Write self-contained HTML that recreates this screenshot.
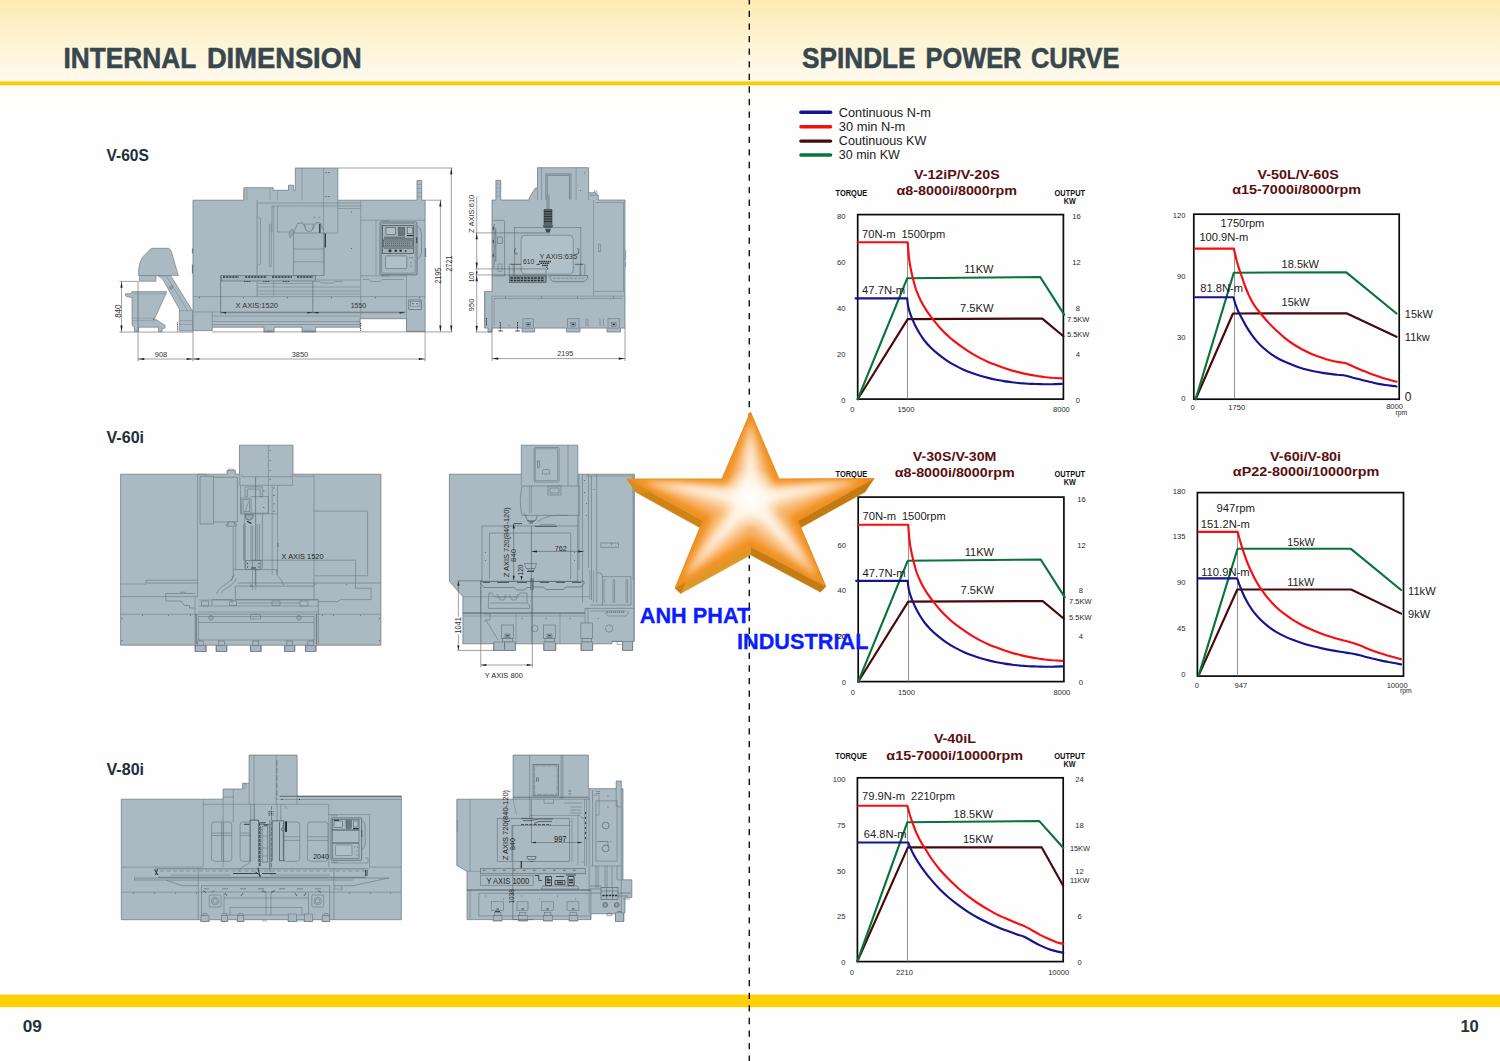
<!DOCTYPE html>
<html><head><meta charset="utf-8"><title>Internal Dimension / Spindle Power Curve</title>
<style>
html,body{margin:0;padding:0;background:#fff;}
body{width:1500px;height:1061px;overflow:hidden;font-family:"Liberation Sans",sans-serif;}
svg{display:block;position:absolute;left:0;top:0;}
svg text{font-family:"Liberation Sans",sans-serif;}
</style></head><body>
<svg width="1500" height="1061" viewBox="0 0 1500 1061">
<defs>
<linearGradient id="hdr" x1="0" y1="0" x2="0" y2="1">
<stop offset="0" stop-color="#fdebb2"/><stop offset="0.5" stop-color="#fef3d2"/><stop offset="1" stop-color="#fffaf0"/>
</linearGradient>
<linearGradient id="hdr2" x1="0" y1="0" x2="0" y2="1">
<stop offset="0" stop-color="#fffdf6"/><stop offset="1" stop-color="#fefefe"/>
</linearGradient>
<radialGradient id="starc">
<stop offset="0" stop-color="#ffffff" stop-opacity="1"/><stop offset="0.45" stop-color="#fffaf2" stop-opacity="0.85"/><stop offset="1" stop-color="#fff2e0" stop-opacity="0"/>
</radialGradient>
<filter id="blur3" x="-30%" y="-30%" width="160%" height="160%"><feGaussianBlur stdDeviation="3"/></filter>
<filter id="blur4" x="-30%" y="-30%" width="160%" height="160%"><feGaussianBlur stdDeviation="4.5"/></filter>

</defs>
<!-- page background -->
<rect x="0" y="0" width="1500" height="1061" fill="#fefefe"/>
<rect x="0" y="0" width="1500" height="81" fill="url(#hdr)"/>
<rect x="0" y="85" width="1500" height="24" fill="url(#hdr2)"/>
<rect x="0" y="81.4" width="1500" height="3.8" fill="#fdcb04"/>
<rect x="0" y="994.6" width="1500" height="12.6" fill="#fdd106"/>
<!-- centre fold -->
<line x1="749.3" y1="0" x2="749.3" y2="1061" stroke="#151515" stroke-width="1.45" stroke-dasharray="6.3 6.288" stroke-dashoffset="1.79"/>
<!-- headings -->
<g stroke="#37474f" stroke-width="0.55" fill="#37474f" font-weight="bold" font-size="28.8">
<text x="63.4" y="68" textLength="132.8" lengthAdjust="spacingAndGlyphs">INTERNAL</text>
<text x="206.9" y="68" textLength="154.8" lengthAdjust="spacingAndGlyphs">DIMENSION</text>
<text x="802" y="67.6" textLength="113.6" lengthAdjust="spacingAndGlyphs">SPINDLE</text>
<text x="925.5" y="67.6" textLength="95.9" lengthAdjust="spacingAndGlyphs">POWER</text>
<text x="1030.9" y="67.6" textLength="88.7" lengthAdjust="spacingAndGlyphs">CURVE</text>
</g>
<text x="22.7" y="1032" font-size="16.2" font-weight="bold" fill="#263238" textLength="19.2" lengthAdjust="spacingAndGlyphs">09</text>
<text x="1460.4" y="1032" font-size="16.2" font-weight="bold" fill="#263238" textLength="18.4" lengthAdjust="spacingAndGlyphs">10</text>
<g font-size="15.8" font-weight="bold" fill="#1f2e39">
<text x="106.5" y="161.3" textLength="42.4" lengthAdjust="spacingAndGlyphs">V-60S</text>
<text x="106.5" y="443.3" textLength="37.6" lengthAdjust="spacingAndGlyphs">V-60i</text>
<text x="106.5" y="775.3" textLength="37.6" lengthAdjust="spacingAndGlyphs">V-80i</text>
</g>

<!-- machines -->
<!-- ============ V-60S front view ============ -->
<g id="v60s-front" stroke-linejoin="miter" fill="none">
<!-- chip conveyor hood + ramp -->
<path d="M138.600,275.600 V270.200 Q139.300,262 142.300,257.400 L151.300,248.300 H168.700 Q170.800,249.300 171.600,252.300 L178.300,275.600 Z" fill="#aab9c2" stroke="#65727a" stroke-width="0.6"/>
<path d="M139.500,275.600 H156 V281.300 H139.500 Z" fill="#aab9c2" stroke="#65727a" stroke-width="0.55"/>
<path d="M157.400,275.600 Q162,277 164,281.500 L180,310.200 H179.400 V331 H192.800 V311.200 L170.600,275.600 Z" fill="#aab9c2" stroke="#65727a" stroke-width="0.6"/>
<path d="M166.400,276.300 L187.600,310.700" stroke="#717e86" stroke-width="0.5"/>
<circle cx="171.100" cy="287.600" r="1.700" fill="none" stroke="#5f6b72" stroke-width="0.5"/><circle cx="171.100" cy="287.600" r="0.800" fill="none" stroke="#5f6b72" stroke-width="0.4"/>
<path d="M179.400,310.700 H192.800 M179.400,320.600 H192.800 M179.400,324.400 H192.800" stroke="#717e86" stroke-width="0.45"/>
<!-- chip bucket -->
<path d="M125.400,293.700 H131 L132,291.600 H166.400 V292.800 L154.600,318.700 L165,325.300 V328.100 L162.100,328.600 V331.400 H158.500 V327.200 H138.600 V331.400 H134.300 V327.200 L132,325.300 V297.500 L126.300,296.600 L125.400,295.100 Z" fill="#aab9c2" stroke="#65727a" stroke-width="0.6"/>
<path d="M132,293.700 H165.800 M132,318.200 H154.600 M132,320.600 H157.500" stroke="#717e86" stroke-width="0.4"/>
<circle cx="153.600" cy="319.500" r="0.500" fill="#30383d"/>
<!-- main silhouette -->
<path d="M193,200.2 L243.9,200.2 L243.9,187.7 L273.2,187.7 L273.2,190.3 L288.5,190.3 L288.5,185.2 L293.6,185.2 L293.6,190.3 L295.3,190.3 L295.3,168 L337.8,168 L337.8,200.2 L417,200.2 L417,180.4 L421.7,180.4 L421.7,200.2 L425.1,200.2 L425.1,331.4 L406.5,331.4 L406.5,318.7 L360.1,318.7 L360.1,327.2 L315.7,327.2 L315.7,332 L302,332 L302,327.2 L274.1,327.2 L274.1,332 L263.9,332 L263.9,327.2 L212.2,327.2 L212.2,330.6 L193,330.6 Z" fill="#aab9c2" stroke="#65727a" stroke-width="0.7"/>
<path d="M417,184.500 h4.700 M417,188.500 h4.700 M417,192.500 h4.700 M417,196.500 h4.700" stroke="#717e86" stroke-width="0.4"/>
<!-- column head detail -->
<path d="M302,168 V200.2 M323.5,168 V232" stroke="#6b7880" stroke-width="0.5"/>
<path d="M325.5,172.5 h1.2 M328.2,172.5 h1.2 M325.5,196.5 h1.2 M328.2,196.5 h1.2" stroke="#4c565d" stroke-width="0.9"/>
<path d="M243.9,200.2 V190 M247,188 V200 M270,188 V200 M277.5,190.3 V200.2" stroke="#717e86" stroke-width="0.4"/>
<!-- door panel left and window -->
<path d="M257.1,200.2 V296.6" stroke="#65727a" stroke-width="0.6"/>
<path d="M257.1,203 H360.7 M272,206 H360.7 M272,206 V232" stroke="#65727a" stroke-width="0.5"/>
<path d="M258.5,217 q2,0 2,2 v44 q0,2 -2,2" fill="none" stroke="#65727a" stroke-width="0.5"/>
<rect x="269.3" y="224" width="2" height="43" rx="1" fill="none" stroke="#65727a" stroke-width="0.5"/>
<path d="M273.7,206 V296 M277.5,206 V232 H293.6" stroke="#6e7b83" stroke-width="0.5"/>
<!-- spindle nose -->
<path d="M293.6,232.8 L297.5,223.5 L302.5,222.8 L306,229.5 L312.5,229.5 L316,222.8 L320,222.8 L323.5,230" fill="none" stroke="#5d6970" stroke-width="0.6"/>
<path d="M304.5,224 h9 l-1.5,6.5 q-3,2.5 -6,0 z" fill="#a9b7bf" stroke="#5d6970" stroke-width="0.5"/>
<path d="M289,232 l3.5,-3 l1.5,4 l-4,5 z" fill="#98a6ae" stroke="#5d6970" stroke-width="0.4"/>
<path d="M319.8,224 V240 M325.3,233.5 V247.5" stroke="#30383d" stroke-width="1.4"/>
<path d="M313.5,216.5 l2,2 m0,-2 l-2,2 M318.5,216.5 l2,2 m0,-2 l-2,2" stroke="#5d6970" stroke-width="0.4"/>
<!-- spindle head box -->
<rect x="293.6" y="233" width="30.4" height="42.4" fill="#a8b7c0" stroke="#65727a" stroke-width="0.6"/>
<path d="M293.6,249 H324 M293.6,261.8 H324" stroke="#65727a" stroke-width="0.5"/>
<path d="M324,232 V275.4 M337.8,200.2 V233 H324 M337.8,208.5 H360.7" stroke="#6e7b83" stroke-width="0.5"/>
<path d="M351,212 h1 M351,248.5 h1" stroke="#4c565d" stroke-width="0.9"/>
<!-- table -->
<rect x="221.5" y="275.6" width="94.2" height="5.4" fill="#a3b0b8" stroke="#4e585f" stroke-width="0.5"/>
<path d="M223,277 h16 M245,277 h22 M272,277 h20 M297,277 h16" stroke="#2e363b" stroke-width="1.6" stroke-dasharray="2.2 0.9"/>
<path d="M244,281.5 h7 M263,281.5 h7 M283,281.5 h7" stroke="#2e363b" stroke-width="0.9" stroke-dasharray="1.5 0.8"/>
<!-- saddle -->
<path d="M257.5,283.5 H312 M257.5,287 H360 M257.5,291 H360 M257.5,294 H360" stroke="#6e7b83" stroke-width="0.5"/>
<path d="M315.7,280 H360.7 M315.7,281.5 l4,0 l1.5,1.5 h12 l1.5,-1.5 h8" fill="none" stroke="#65727a" stroke-width="0.5"/>
<!-- base ledge -->
<path d="M193,296.6 H425.1 M193,311.9 H406.5 M212.2,311.9 V327.2 M212.2,316 H360 M212.2,321.5 H360 M212.2,324.5 H360" stroke="#6b7880" stroke-width="0.5"/>
<path d="M199,297.7 h1 M243,297.7 h1 M287,297.7 h1 M331,297.7 h1 M375,297.7 h1 M419,297.7 h1" stroke="#4c565d" stroke-width="0.9"/>
<!-- right panel -->
<path d="M360.7,200.2 V318.7 M360.7,220.2 H425.1 M376,220.2 V275.5 M360.7,275.8 H406.5 M406.5,275.8 V331.4 M363,279.5 h6 l1.5,2 h10 l1.5,-2 h22" fill="none" stroke="#6b7880" stroke-width="0.5"/>
<!-- control panel -->
<rect x="380" y="222" width="37" height="52.800" rx="1.2" fill="#a8b7c0" stroke="#4e585f" stroke-width="0.7"/>
<rect x="381.600" y="223.600" width="33.600" height="49.600" rx="0.8" fill="none" stroke="#5f6b72" stroke-width="0.5"/>
<rect x="382.4" y="225.6" width="31" height="27.8" fill="#a4b2ba" stroke="#343c41" stroke-width="0.6"/>
<rect x="386" y="227.5" width="9.6" height="7.2" fill="#b1c0c8" stroke="#343c41" stroke-width="0.5"/>
<rect x="398.3" y="227.3" width="6.3" height="8.2" fill="#6c787f" stroke="#343c41" stroke-width="0.4"/>
<rect x="407.3" y="227.3" width="5" height="6.5" fill="#b1c0c8" stroke="#343c41" stroke-width="0.4"/>
<path d="M407,235.6 h6" stroke="#22292d" stroke-width="1.1"/>
<path d="M384,237.2 h21 M384,238.8 h29" stroke="#343c41" stroke-width="0.7"/>
<rect x="383.6" y="240" width="28.6" height="7" fill="#8f9ca4" stroke="#343c41" stroke-width="0.5"/>
<path d="M385,241.8 h26 M385,243.6 h26 M385,245.4 h26" stroke="#394247" stroke-width="0.7" stroke-dasharray="1.2 0.8"/>
<path d="M384,248.3 h29" stroke="#343c41" stroke-width="0.5"/>
<circle cx="390" cy="250.7" r="1.5" fill="#2c3338"/><circle cx="395.8" cy="250.7" r="1.3" fill="#2c3338"/><circle cx="400.6" cy="250.7" r="1.3" fill="#2c3338"/><circle cx="405.6" cy="250.9" r="0.9" fill="#2c3338"/>
<rect x="385.6" y="255.9" width="21.2" height="12.7" rx="0.8" fill="#b1c0c8" stroke="#4e585f" stroke-width="0.5"/>
<path d="M409.3,257.8 h1 M411.6,257.8 h1 M410.6,262.5 h0.8 M410.6,266 h0.8" stroke="#4c565d" stroke-width="0.9"/>
<path d="M417.5,226 q4,2 4,8 v18 q0,5 -4,7" fill="none" stroke="#5f6b72" stroke-width="0.6"/>
<path d="M416.8,237.5 v5.5" stroke="#2c3338" stroke-width="1"/>
<path d="M382,221 h7 M382,276 h7" stroke="#4c565d" stroke-width="0.6" stroke-dasharray="1 0.6"/>
<path d="M425.6,248 v9" stroke="#4c565d" stroke-width="0.8"/>
<!-- socket box -->
<rect x="408.9" y="300" width="12.3" height="9.3" fill="#b1c0c8" stroke="#4e585f" stroke-width="0.6"/>
<rect x="410.2" y="301.3" width="9.7" height="5.2" fill="none" stroke="#4e585f" stroke-width="0.4"/>
<path d="M412.3,303.8 h1.2 M416.4,303.8 h1.2" stroke="#2c3338" stroke-width="1.1"/>
<!-- left side marks -->
<path d="M192.4,248.5 v5 M192.4,264.5 v9" stroke="#4c565d" stroke-width="0.8"/>
<!-- levelling pads -->
<path d="M265.5,330.8 h7 M303.5,330.8 h11" stroke="#6a767d" stroke-width="0.6"/>
<path d="M360.6,323 v8 M177.600,322.500 v9" stroke="#30383d" stroke-width="1" stroke-dasharray="1 0.7"/>
<!-- dimension lines -->
<g stroke="#565656" stroke-width="0.55" fill="none">
<path d="M220.6,275.6 V313.5 M312.8,281 V313.5 M220.6,312.7 H405"/>
<path d="M119.500,332.100 H193 M212,331.9 H452.5 M119.500,281.400 H138.600"/>
<path d="M121.5,281.5 V331.9"/>
<path d="M138,282 V361.5 M193,331 V361.5 M425.1,331.4 V361.5 M138,359 H425.1"/>
<path d="M338,168 H452.5 M425.1,200.2 H441.5 M440.4,200.2 V331.9 M451.3,168 V331.9"/>
</g>
<g fill="#1e1e1e" stroke="none">
<path d="M121.5,281.5 l-1.1,6.3 h2.2 z M121.5,331.9 l-1.1,-6.3 h2.2 z"/>
<path d="M440.4,200.2 l-1.1,6.3 h2.2 z M440.4,331.9 l-1.1,-6.3 h2.2 z M451.3,168 l-1.1,6.3 h2.2 z M451.3,331.9 l-1.1,-6.3 h2.2 z"/>
<path d="M138,359 l6.3,-1.1 v2.2 z M193,359 l-6.3,-1.1 v2.2 z M193,359 l6.3,-1.1 v2.2 z M425.1,359 l-6.3,-1.1 v2.2 z"/>
<path d="M220.6,312.7 l5.5,-0.8 v1.6 z M312.8,312.7 l-5.5,-0.8 v1.6 z M312.8,312.7 l5.5,-0.8 v1.6 z M405,312.7 l-5.5,-0.8 v1.6 z"/>
</g>
<g font-size="7.2" fill="#333">
<text x="161" y="356.6" text-anchor="middle" textLength="12.6" lengthAdjust="spacingAndGlyphs">908</text>
<text x="300" y="356.6" text-anchor="middle" textLength="16.5" lengthAdjust="spacingAndGlyphs">3850</text>
<text x="235.6" y="307.8" font-size="7.4" textLength="42.4" lengthAdjust="spacingAndGlyphs">X AXIS:1520</text>
<text x="350.700" y="308.100" font-size="7.400" textLength="15.500" lengthAdjust="spacingAndGlyphs">1550</text>
<text transform="translate(120.900,311.200) rotate(-90)" text-anchor="middle" font-size="8.3" textLength="13.2" lengthAdjust="spacingAndGlyphs">840</text>
<text transform="translate(440.8,275.8) rotate(-90)" text-anchor="middle" font-size="8.2" textLength="16" lengthAdjust="spacingAndGlyphs">2195</text>
<text transform="translate(451.7,263.5) rotate(-90)" text-anchor="middle" font-size="8.2" textLength="15.8" lengthAdjust="spacingAndGlyphs">2721</text>
</g>
</g>
<!-- ============ V-60S side view ============ -->
<g id="v60s-side" fill="none">
<!-- silhouette -->
<path d="M492,200 L495.9,200 L495.9,180.3 L500.7,180.3 L500.7,200 L528.8,200 L529.5,197.5 L535.5,188 L537.5,188 L537.5,167.7 L588.6,167.7 L588.6,192.8 L596,192.8 L596,195 L598.3,195 L598.3,200 L625,200 L625,328.1 L620.5,328.1 L620.5,332 L607,332 L607,328.1 L580,328.1 L580,332 L566.4,332 L566.4,328.1 L534.6,328.1 L534.6,332 L522,332 L522,328.1 L492,328.1 L492,332 L488,332 L488,328.1 L484.7,328.1 L484.7,291.4 L492,291.4 Z" fill="#aab9c2" stroke="#65727a" stroke-width="0.7"/>
<path d="M496,184 h4.6 M496,188 h4.6 M496,192 h4.6 M496,196 h4.6" stroke="#6e7b83" stroke-width="0.4"/>
<!-- column -->
<path d="M537.5,188 V200 M576.1,167.7 V200 M588.6,192.8 V200 M541.5,167.7 V200" stroke="#6b7880" stroke-width="0.5"/>
<path d="M545.8,199.6 V173.9 H570.9 V199.6 M547.3,199.6 V175.4 H569.4 V199.6" stroke="#5d6970" stroke-width="0.6"/>
<path d="M580,190.5 h1 M584,173 h1" stroke="#4c565d" stroke-width="0.8"/>
<path d="M590,195.5 h5 M594.5,192.8 v-2 h2.5 v4" stroke="#65727a" stroke-width="0.5"/>
<!-- spindle (dark) -->
<path d="M548,194.8 V209.3" stroke="#5d6970" stroke-width="2.6"/>
<path d="M548,194.8 V209.3" stroke="#aab9c2" stroke-width="1.2"/>
<rect x="544" y="209.3" width="8" height="15.2" fill="#59656c" stroke="#30383d" stroke-width="0.5"/>
<path d="M544,211.5 h8 M544,214 h8 M544,216.5 h8 M544,219 h8 M544,221.5 h8" stroke="#262d31" stroke-width="0.9"/>
<path d="M543,225.5 h10 l-1.5,2.5 h-7 z" fill="#4a555b" stroke="#30383d" stroke-width="0.4"/>
<path d="M545.5,229.2 h5 l-1,3 h-3 z" fill="#3e484e" stroke="#30383d" stroke-width="0.4"/>
<!-- right cabinet -->
<path d="M593.5,200 V296.2 M593.5,291.4 H625 M595.5,202.5 H623.5 V291.4" stroke="#6b7880" stroke-width="0.5"/>
<rect x="598.4" y="244" width="1.9" height="7.8" fill="none" stroke="#5f6b72" stroke-width="0.45"/>
<path d="M625.6,250 v10 M625.6,262 v5" stroke="#5f6b72" stroke-width="0.6"/>
<!-- door frame + window -->
<rect x="514.3" y="227.6" width="66.6" height="48.3" fill="none" stroke="#5f6b72" stroke-width="0.55"/>
<rect x="521" y="235.3" width="52.2" height="38.8" rx="4" fill="#b1c0c8" stroke="#5f6b72" stroke-width="0.55"/>
<path d="M516,248.5 q-1.2,0 -1.2,1.2 v3 q0,1.2 1.2,1.2 h1.5 M577.5,248.5 q1.2,0 1.2,1.2 v3 q0,1.2 -1.2,1.2 h-1.5" stroke="#3b444a" stroke-width="0.7"/>
<!-- left electrical box -->
<path d="M492.6,220.3 H503 q1.6,0 1.6,1.6 V275.9 H492.6" stroke="#5f6b72" stroke-width="0.55"/>
<path d="M494,224 V268 M495.8,228 V262" stroke="#4c565d" stroke-width="0.6"/>
<rect x="497.6" y="237" width="4.6" height="6.5" fill="none" stroke="#4c565d" stroke-width="0.5"/>
<rect x="498" y="264" width="4" height="7.5" rx="0.8" fill="none" stroke="#5f6b72" stroke-width="0.5"/>
<path d="M493.2,227 v3 M493.2,240 v3 M493.2,254 v3" stroke="#2e363b" stroke-width="0.9"/>
<!-- table & vise -->
<path d="M509.4,276 V264.3 H513.3 V276 M580,276 V264.3 H584.8 V276" stroke="#5f6b72" stroke-width="0.55"/>
<path d="M511,264.3 h10 M575,264.3 h8" stroke="#3b444a" stroke-width="0.7"/>
<rect x="509.4" y="276" width="36.7" height="6.7" fill="#8f9ca4" stroke="#3b444a" stroke-width="0.5"/>
<path d="M510.5,278 h34 M510.5,280.6 h34" stroke="#262d31" stroke-width="1.5" stroke-dasharray="2.4 1"/>
<path d="M550,275.6 H587.7 V278.5 L584.5,281.7 H553 L550,278.5 Z" fill="#a6b5be" stroke="#4c565d" stroke-width="0.55"/>
<path d="M553,278.3 h31" stroke="#5f6b72" stroke-width="0.45" stroke-dasharray="3 1.2"/>
<!-- vise on table center (dark blob) -->
<path d="M539,261.5 h12 M540.5,263.3 h9 M542,265.5 h6" stroke="#262d31" stroke-width="1.3" stroke-dasharray="1.6 0.6"/>
<path d="M546,267 l2,1.5 l-1.5,1.5" stroke="#262d31" stroke-width="0.8"/>
<path d="M546,270 V282" stroke="#4c565d" stroke-width="0.5"/>
<!-- base -->
<path d="M492,296.2 H625 M484.7,291.4 V328.1 M492,296.2 V328.1 M494,298.5 H623 M494,298.5 V326" stroke="#6b7880" stroke-width="0.5"/>
<path d="M505,297.4 h1 M541,297.4 h1 M577,297.4 h1 M613,297.4 h1" stroke="#4c565d" stroke-width="0.8"/>
<!-- feet -->
<g stroke="#5f6b72" stroke-width="0.5">
<rect x="523" y="318.8" width="10.6" height="9.3" fill="#a6b5be"/><rect x="567.4" y="318.8" width="11.6" height="9.3" fill="#a6b5be"/><rect x="608" y="318.8" width="11.5" height="9.3" fill="#a6b5be"/>
<rect x="526" y="322.5" width="4.6" height="3.8" fill="#9aa7af"/><rect x="570.9" y="322.5" width="4.6" height="3.8" fill="#9aa7af"/><rect x="611.5" y="322.5" width="4.6" height="3.8" fill="#9aa7af"/>
<path d="M586,318.8 V326 M588,318.8 V326 M600,318.8 V326 M603.5,318.8 V326"/>
</g>
<path d="M527.2,324.4 h2.2 M572.1,324.4 h2.2 M612.7,324.4 h2.2" stroke="#262d31" stroke-width="1.2"/>
<path d="M500.3,322 v9 M517.5,322 v9 M486.5,318 v8" stroke="#262d31" stroke-width="1" stroke-dasharray="1 0.6"/>
<path d="M498,331 h5 M515,331 h5" stroke="#3b444a" stroke-width="0.8"/>
<circle cx="509" cy="325.5" r="0.5" fill="#4c565d"/>
<!-- dimension lines -->
<g stroke="#565656" stroke-width="0.55">
<path d="M476.700,196.700 V332 M475.500,232.900 H550 M475.500,268.900 H546 M475.500,274.900 H546 M475.5,332 H492"/>
<path d="M492,328 V361 M625,328 V361 M492,358.6 H625"/>
</g>
<g fill="#1e1e1e" stroke="none">
<path d="M476.700,232.900 l-1.1,6.3 h2.2 z M476.700,268.900 l-1.1,-6.3 h2.2 z M476.700,274.900 l-1.1,6.3 h2.2 z M476.700,332 l-1.1,-6.3 h2.2 z M476.700,274.900 l-1,-3.4 h2 z"/>
<path d="M492,358.6 l6.3,-1.1 v2.2 z M625,358.6 l-6.3,-1.1 v2.2 z"/>
<path d="M535.5,264.3 l4,-0.8 v1.6 z"/>
</g>
<g font-size="7.2" fill="#333">
<text transform="translate(474.3,213.8) rotate(-90)" text-anchor="middle" font-size="8.1" textLength="38.2" lengthAdjust="spacingAndGlyphs">Z AXIS:610</text>
<text transform="translate(474.3,277.1) rotate(-90)" text-anchor="middle" font-size="8.1" textLength="10.5" lengthAdjust="spacingAndGlyphs">100</text>
<text transform="translate(474.3,304.9) rotate(-90)" text-anchor="middle" font-size="8.1" textLength="12.5" lengthAdjust="spacingAndGlyphs">950</text>
<text x="523" y="263.5" font-size="7.6" textLength="11.2" lengthAdjust="spacingAndGlyphs">610</text>
<text x="539.4" y="258.5" font-size="7.6" textLength="37.6" lengthAdjust="spacingAndGlyphs">Y AXIS:635</text>
<text x="565.2" y="355.6" text-anchor="middle" textLength="16" lengthAdjust="spacingAndGlyphs">2195</text>
</g>
</g>
<!-- ============ V-60i front view ============ -->
<g id="v60i-front" fill="none">
<!-- silhouette -->
<path d="M120.6,474.2 L227,474.2 L227,470.3 L235.3,470.3 L235.3,474.2 L239.5,474.2 L239.5,445.2 L293,445.2 L293,474.2 L380.9,474.2 L380.9,645.2 L318.3,645.2 L316.2,645.2 L316.2,651.5 L305.4,651.5 L305.4,645.2 L294.9,645.2 L294.9,651.5 L284.5,651.5 L284.5,645.2 L261.3,645.2 L261.3,651.5 L250.3,651.5 L250.3,645.2 L227,645.2 L227,651.5 L216,651.5 L216,645.2 L206.3,645.2 L206.3,651.5 L194.9,651.5 L194.9,645.2 L120.6,645.2 Z" fill="#aab9c2" stroke="#65727a" stroke-width="0.7"/>
<!-- column -->
<path d="M268.400,445.200 V485.300 M239.800,474.400 V485.300 H292.600 V474.400 M242,474.400 V476.800 H291 V474.400" stroke="#65727a" stroke-width="0.5"/>
<path d="M270.3,450 v1 M270.3,460 v1 M270.3,470 v1 M270.3,479 v1" stroke="#4c565d" stroke-width="0.8"/>
<!-- left panel -->
<path d="M197.6,474.2 V596.6 M120.6,596.6 H197.6 M146,583 V580.2 H198 M146,583 H198" stroke="#65727a" stroke-width="0.55"/>
<path d="M120.6,614.2 H195 M120.6,584 H146" stroke="#65727a" stroke-width="0.5"/>
<path d="M122,618 v1.2 M122,640 v1.2 M142,615.3 h1 M168,615.3 h1 M190,615.3 h1" stroke="#4c565d" stroke-width="0.8"/>
<!-- ATC drum -->
<path d="M200,476.3 H213.5 V524 H200 Z" fill="#a8b7c0" stroke="#5f6b72" stroke-width="0.55"/>
<path d="M213.5,477.3 H237.4 V522 H213.5" stroke="#5f6b72" stroke-width="0.55"/>
<path d="M198,474.2 h8 v2" stroke="#65727a" stroke-width="0.5"/>
<path d="M228.2,522 h6.4 v2.2 h1.6 v2 h-9.6 v-2 h1.6 z" fill="#aab8c0" stroke="#4c565d" stroke-width="0.5"/>
<path d="M228.5,470.3 v-1.2 h5.2 v1.2" stroke="#5f6b72" stroke-width="0.5"/>
<!-- pipes -->
<path d="M233.2,527 V569 M235.7,527 V569" stroke="#5f6b72" stroke-width="0.5"/>
<path d="M234.3,574.8 C230,585 222,583 216.6,593.5 M236.5,578 C232,588 226,586 221,593.5" stroke="#5f6b72" stroke-width="0.55"/>
<!-- head -->
<path d="M240.500,485.300 V513.900 H277.500 M244.700,513.900 V568.500 M272.200,485.300 V574.700 M277.500,485.300 V574.700" stroke="#65727a" stroke-width="0.5"/>
<path d="M255.600,477 V584.800" stroke="#4c565d" stroke-width="0.55"/>
<path d="M245.100,496.600 V486.800 H262.400 V496.600 H260.100 V489 H247.400 V496.600 Z" stroke="#5f6b72" stroke-width="0.5"/>
<path d="M241.300,498 H251.100 V513.200 H241.300 Z M243,499.500 H249.500 V511.500 H243 Z" stroke="#5f6b72" stroke-width="0.5"/>
<path d="M245.500,511 q1.500,-7 3.500,-9.500" stroke="#5f6b72" stroke-width="0.45"/>
<path d="M251.100,496.600 H268.400 V513.200 H251.100" stroke="#5f6b72" stroke-width="0.5"/>
<path d="M268.400,485.300 V513.900" stroke="#65727a" stroke-width="0.45"/>
<path d="M274,487.500 v1 M274,495 v1 M274,503.400 v1 M274,510.900 v1 M263.800,490.500 v1 M263.800,507 v1" stroke="#3b444a" stroke-width="0.9"/>
<path d="M245,514.700 h8.400 l-1,4 q-3.200,3 -6.400,0 z" fill="#9aa8b0" stroke="#3b444a" stroke-width="0.5"/>
<path d="M247,521.200 l4.500,2.200" stroke="#22292d" stroke-width="1.1"/>
<path d="M243.600,523.700 V560.700 M245,523.700 V560.700 M251.100,526 V560.700 M252.600,526 V560.700 M257.200,524 V560.700 M259.400,524 V560.700 M262.400,513.900 V568.500" stroke="#5f6b72" stroke-width="0.5"/>
<rect x="245.800" y="560.700" width="15.100" height="9" fill="#a5b3bb" stroke="#4c565d" stroke-width="0.5"/>
<path d="M247.500,563 v1 M247.500,566.500 v1 M259,563 v1 M259,566.500 v1 M251,568 h5" stroke="#22292d" stroke-width="0.9"/>
<path d="M278,543 v4" stroke="#4c565d" stroke-width="0.7"/>
<!-- X axis dim -->
<path d="M252,560.2 H355.6 V588.2 H371.1 V599.6 H340.5 L337.5,601.6 H318.3" stroke="#5f6b72" stroke-width="0.5"/>
<path d="M252.5,560.2 V590 M255.8,568 V590" stroke="#5f6b72" stroke-width="0.45"/>
<!-- column base + table -->
<path d="M233.3,569.6 H276.8 V574.7 L282,581 V583 M233.3,569.6 V574.7 L231.5,581" stroke="#5f6b72" stroke-width="0.55"/>
<path d="M238,583 H380.9 M235.4,586.1 H314 M235.4,586.1 V599.6 H318.3 M314.1,583 V599.6" stroke="#5f6b72" stroke-width="0.55"/>
<path d="M283,584.2 h1 M314.3,584.2 h1 M346,584.2 h1 M251,584.6 v2.6" stroke="#4c565d" stroke-width="0.8"/>
<!-- right panel -->
<path d="M314.1,474.2 V583 M314.1,511.1 H367.6 V575.8 H314.1" stroke="#65727a" stroke-width="0.5"/>
<path d="M295,474.2 v2.2 h19" stroke="#65727a" stroke-width="0.45"/>
<!-- saddle -->
<path d="M165.8,593.5 H195 M165.8,593.5 V601 H181 L184.5,605.5 H189.5 V608 H195" stroke="#5f6b72" stroke-width="0.55"/>
<path d="M180,592.3 h6" stroke="#5f6b72" stroke-width="0.5"/>
<path d="M195,596.6 V645 M198.5,600 H318 M198.5,606 H318.3 M198.5,612 H318.3" stroke="#65727a" stroke-width="0.45"/>
<path d="M201.5,601 h7 v5 h-7 z M229.5,601 h7 v4.5 h-7 z M272,601 h8 v4.500 h-8 z M300,601 h8 v5 h-8 z" stroke="#5f6b72" stroke-width="0.5"/>
<path d="M212,599.6 H232 V603 M212,599.6 v6.5 M238,603 H300" stroke="#5f6b72" stroke-width="0.5"/>
<path d="M318.3,599.6 V645.2" stroke="#5f6b72" stroke-width="0.55"/>
<!-- base -->
<path d="M195,614.2 H318.3 M198.5,616.5 H314.1 V640 H198.5 Z M198.500,622.500 H314 M200,640 v4 M312,640 v4" stroke="#5f6b72" stroke-width="0.5"/>
<path d="M196.200,614.200 V644" stroke="#3b444a" stroke-width="0.7"/>
<path d="M316.3,614.200 V644" stroke="#3b444a" stroke-width="0.6"/>
<circle cx="211" cy="617.8" r="2.4" stroke="#5f6b72" stroke-width="0.5"/><circle cx="211" cy="617.8" r="1.3" stroke="#5f6b72" stroke-width="0.4"/>
<circle cx="299" cy="617.8" r="2.4" stroke="#5f6b72" stroke-width="0.5"/><circle cx="299" cy="617.8" r="1.3" stroke="#5f6b72" stroke-width="0.4"/>
<path d="M250.5,614.5 h10 v4.500 h-10 z" stroke="#5f6b72" stroke-width="0.5"/>
<path d="M318.3,614.2 H380.9" stroke="#65727a" stroke-width="0.5"/>
<path d="M322,615.3 h1 M333,615.3 h1 M360,615.3 h1 M379.500,618 v1.2 M379.500,640 v1.2" stroke="#4c565d" stroke-width="0.8"/>
<!-- feet -->
<g fill="#a8b7c0" stroke="#5f6b72" stroke-width="0.55">
<rect x="195.400" y="645.200" width="10.400" height="6.300"/><rect x="216.500" y="645.200" width="10" height="6.300"/><rect x="250.800" y="645.200" width="10" height="6.300"/><rect x="285" y="645.200" width="9.400" height="6.300"/><rect x="305.900" y="645.200" width="9.800" height="6.300"/>
<rect x="197.500" y="641" width="6" height="4.200"/><rect x="218.500" y="641" width="6" height="4.200"/><rect x="252.800" y="641" width="6" height="4.200"/><rect x="286.800" y="641" width="6" height="4.200"/><rect x="307.800" y="641" width="6" height="4.200"/>
</g>
<text x="281.600" y="559.200" font-size="8.1" fill="#222" textLength="41.900" lengthAdjust="spacingAndGlyphs">X AXIS 1520</text>
</g>
<!-- ============ V-60i side view ============ -->
<g id="v60i-side" fill="none">
<path d="M449.4,474.2 L521.3,474.2 L521.3,445.2 L577.8,445.2 L577.8,474.2 L634.2,474.2 L634.2,641.4 L632.7,641.4 L632.7,650.4 L622.6,650.4 L622.6,641.4 L612,641.4 L612,643.8 L592.7,643.8 L592.7,650.4 L580.9,650.4 L580.9,643.8 L555.9,643.8 L555.9,650.4 L543.7,650.4 L543.7,643.8 L515.4,643.8 L515.4,650.4 L493.7,650.4 L493.7,643.8 L462.9,643.8 L462.9,596.7 L449.4,581.3 Z" fill="#aab9c2" stroke="#65727a" stroke-width="0.7"/>
<!-- column & door -->
<path d="M521.3,474.2 V486 M577.8,474.2 V526 M568,445.2 V486" stroke="#65727a" stroke-width="0.5"/>
<rect x="534.2" y="447.5" width="24.8" height="34.5" rx="1" fill="none" stroke="#5f6b72" stroke-width="0.55"/>
<rect x="535.6" y="448.9" width="22" height="31.7" fill="none" stroke="#65727a" stroke-width="0.45"/>
<rect x="537.5" y="461" width="2" height="6.500" stroke="#4c565d" stroke-width="0.5"/>
<path d="M542.5,474 v-3 q0,-1.500 1.500,-1.500 h4 q1.500,0 1.500,1.500 v3 z" stroke="#5f6b72" stroke-width="0.5"/>
<!-- head -->
<path d="M522,486 H579 V515.4 H522 Q518.500,501 522,486 Z" fill="#a8b7c0" stroke="#5f6b72" stroke-width="0.55"/>
<path d="M529.500,486 V513 M531.500,486 V513" stroke="#5f6b72" stroke-width="0.45"/>
<path d="M548,486 h13 v9 h-13 z M550,488 h9 v5 h-9 z" stroke="#5f6b72" stroke-width="0.5"/>
<path d="M524.500,513.500 l3,7 q4,3 8,0 l2,-5" stroke="#4c565d" stroke-width="0.6"/>
<path d="M527.500,521 h7 M529,523 h4" stroke="#3b444a" stroke-width="0.8"/>
<path d="M538,521.500 q10,-8 30,-6 M540,524.500 h16" stroke="#5f6b72" stroke-width="0.5"/>
<path d="M514,523.600 h8 M535,526.400 h22" stroke="#30383d" stroke-width="0.8"/>
<!-- column right verticals -->
<path d="M579,474.200 V570 M582.500,474.200 V602.500 M588.500,474.200 V568 M591.500,476 V600 M596.700,474.200 V602.500 M585.500,476 H596.700" stroke="#5f6b72" stroke-width="0.5"/>
<path d="M584.500,480 v1 M584.500,492 v1 M586.500,503 v1 M586.500,515 v1 M594,489 v1" stroke="#4c565d" stroke-width="0.8"/>
<!-- right cabinet -->
<path d="M596.700,476 H633 V580 M634.200,474.200 V641" stroke="#65727a" stroke-width="0.5"/>
<rect x="600.900" y="543" width="17.400" height="4.200" fill="none" stroke="#5f6b72" stroke-width="0.55"/>
<path d="M611.500,543 v2" stroke="#4c565d" stroke-width="0.6"/>
<!-- tank -->
<path d="M596.700,573 h4 l2,3.600 H631 V605 H591 M602.500,576.600 V605 M604,580 V603 M613.100,580 V603 M614.600,580 V603 M626.100,580 V603 M627.600,580 V603" stroke="#5f6b72" stroke-width="0.5"/>
<path d="M604,580 q0.700,-2 1.500,0 M613.100,580 q0.700,-2 1.500,0 M626.100,580 q0.700,-2 1.500,0" stroke="#5f6b72" stroke-width="0.5"/>
<path d="M590,570 V600 M593.500,570 V602" stroke="#65727a" stroke-width="0.45"/>
<!-- inner frame / window -->
<rect x="482" y="526" width="95.800" height="55.300" fill="none" stroke="#5f6b72" stroke-width="0.55"/>
<path d="M489.500,579 V533 H570.700 V579" stroke="#5f6b72" stroke-width="0.55"/>
<path d="M485.500,552 v1 M485.500,560 v1 M574.500,552 v1 M574.500,560 v1" stroke="#4c565d" stroke-width="0.7"/>
<!-- small vise on table -->
<path d="M524.500,563.500 h12 l-1.500,5 h-9 z M528,568.500 v2 h6 v-2" stroke="#4c565d" stroke-width="0.5"/>
<path d="M527,571.500 h7" stroke="#30383d" stroke-width="0.9"/>
<!-- table -->
<path d="M480.800,581.300 H584 V583.500 L581,587 H566 L563,589.500 H546 L543,587 H533 M480.800,581.300 V584 L484,587.500 H514 L517,590 H524 L527,587.500 H531" stroke="#4c565d" stroke-width="0.55"/>
<path d="M483,582.500 h7 M497,582.500 h12 M517,582.500 h10 M540,582.500 h9 M556,582.500 h9 M572,582.500 h9" stroke="#3b444a" stroke-width="0.8"/>
<path d="M531,578 V590 M533,578 V590" stroke="#30383d" stroke-width="0.7"/>
<!-- saddle/vise under table -->
<path d="M489,593 L492,593 L495,597 H517 L520,593 H527 V603 L529.500,605 V608.400 H488.300 V603 Z" stroke="#5f6b72" stroke-width="0.55"/>
<path d="M497,594 l3,6 h4 l2,-6 M509,594 l3,6 h4 l2,-6 M490,603 H527" stroke="#5f6b72" stroke-width="0.5"/>
<path d="M462.900,596.700 H590 M480.800,587 V613 M531.400,590 V613" stroke="#65727a" stroke-width="0.45"/>
<!-- base -->
<path d="M462.900,613.100 H585" stroke="#3b444a" stroke-width="0.8"/>
<path d="M585,613.100 V608.400 H634.2 M588,608.400 V643.800 M585,613.100 V643.800 M590.500,611 H626 M606,611 v3 l2,2 h18 l2,-2 v-3" stroke="#5f6b72" stroke-width="0.5"/>
<path d="M607,612.200 h17" stroke="#3b444a" stroke-width="0.7" stroke-dasharray="1.200 0.800"/>
<circle cx="534.700" cy="628.500" r="3.300" stroke="#5f6b72" stroke-width="0.55"/>
<circle cx="609.100" cy="628.500" r="3.700" stroke="#5f6b72" stroke-width="0.55"/>
<path d="M484,614 h6 v6 h-4.500 l-1.500,2 M486,620 L498,640" stroke="#5f6b72" stroke-width="0.5"/>
<path d="M516,613.100 V643.800 M531.400,613.100 V643.800 M560,613.100 V643.800 M464,616 H584" stroke="#65727a" stroke-width="0.4"/>
<path d="M612,641.400 h10.600 M617,641.400 v3 h5" stroke="#5f6b72" stroke-width="0.5"/>
<path d="M522,618 v1 M546,618 v1 M570,618 v1 M598,618 v1" stroke="#4c565d" stroke-width="0.7"/>
<!-- feet -->
<g fill="#a8b7c0" stroke="#5f6b72" stroke-width="0.55">
<rect x="501.500" y="625" width="12" height="13.500"/><rect x="543.500" y="625" width="12" height="13.500"/><rect x="580.900" y="623" width="11.500" height="15.500"/>
<rect x="505" y="634" width="5" height="3.800" fill="#9aa7af"/><rect x="547" y="634" width="5" height="3.800" fill="#9aa7af"/>
<rect x="502.500" y="638.500" width="10" height="3.500"/><rect x="545" y="638.500" width="9.500" height="3.500"/><rect x="582" y="638.500" width="9.500" height="3.500"/>
<rect x="494" y="642" width="10.400" height="8.400"/><rect x="504.800" y="642" width="10.400" height="8.400"/><rect x="544" y="642" width="11.700" height="8.400"/><rect x="581.200" y="642" width="11.300" height="8.400"/><rect x="622.800" y="641.400" width="9.700" height="9"/>
</g>
<path d="M506.300,635.800 h2.400 M548.300,635.800 h2.400" stroke="#262d31" stroke-width="1.100"/>
<!-- dimension lines -->
<g stroke="#555" stroke-width="0.55">
<path d="M458.400,580.900 V616.500 M458.400,634.500 V650.400 M457.500,580.900 H482.500 M457.500,650.400 H494"/>
<path d="M480.800,580.200 V667.500 M532.300,580.200 V667.500 M480.800,665 H532.300"/>
<path d="M531.400,526 V581 M531.400,551.400 H583.700"/>
<path d="M513.700,523.600 V580.600"/>
</g>
<g fill="#1e1e1e" stroke="none">
<path d="M458.400,580.900 l-1,4.800 h2 z M458.400,650.400 l-1,-4.800 h2 z"/>
<path d="M480.800,665 l5.500,-1 v2 z M532.300,665 l-5.500,-1 v2 z"/>
<path d="M531.400,551.400 l5.500,-1 v2 z M583.700,551.400 l-5.500,-1 v2 z"/>
<path d="M513.700,523.600 l-1,4.800 h2 z M513.700,580.600 l-1,-4.800 h2 z M521.500,580.600 l-1,-4.500 h2 z"/>
</g>
<g font-size="7.3" fill="#2a2a2a">
<text transform="translate(461,625.400) rotate(-90)" text-anchor="middle" font-size="8.300" textLength="16.300" lengthAdjust="spacingAndGlyphs">1041</text>
<text x="484.800" y="677.500" font-size="7.400" textLength="38.100" lengthAdjust="spacingAndGlyphs">Y AXIS 800</text>
<text x="554.700" y="550.700" font-size="7.800" textLength="12" lengthAdjust="spacingAndGlyphs">762</text>
<text transform="translate(509.300,542.200) rotate(-90)" text-anchor="middle" font-size="7.600" textLength="70" lengthAdjust="spacingAndGlyphs">Z AXIS 720(840-120)</text>
<text transform="translate(516.300,555.400) rotate(-90)" text-anchor="middle" font-size="7.600" textLength="13" lengthAdjust="spacingAndGlyphs">840</text>
<text transform="translate(523.300,570) rotate(-90)" text-anchor="middle" font-size="7.600" textLength="11" lengthAdjust="spacingAndGlyphs">120</text>
</g>
</g>
<!-- ============ V-80i front view ============ -->
<g id="v80i-front" fill="none">
<path d="M121.300,799.200 L223.100,799.200 L223.100,789 L242.600,789 L242.600,783.200 L249.100,783.200 L249.100,755.100 L297.100,755.100 L297.100,796.200 L401.300,796.200 L401.300,919.700 L329.700,919.700 L329.700,921.400 L322,921.400 L322,919.700 L312.700,919.700 L312.700,921.400 L304.200,921.400 L304.200,919.700 L296.600,919.700 L296.600,921.400 L288,921.400 L288,919.700 L244,919.700 L244,921.400 L237.200,921.400 L237.200,919.700 L227.800,919.700 L227.800,921.400 L221,921.400 L221,919.700 L209.200,919.700 L209.200,921.400 L200.700,921.400 L200.700,919.700 L121.300,919.700 Z" fill="#aab9c2" stroke="#65727a" stroke-width="0.7"/>
<path d="M279.600,796.300 H401.300" stroke="#4c565d" stroke-width="0.8"/>
<!-- column -->
<path d="M254,755.100 V821 M276.200,755.100 V804.300 M249.100,783.200 V804.300 H328.800 M297.100,796.200 V804.300 M279.600,799.500 H401.300" stroke="#65727a" stroke-width="0.5"/>
<path d="M276.900,760 V800" stroke="#4c565d" stroke-width="0.5" stroke-dasharray="6 1.500"/>
<path d="M281.500,799.500 h1 M299,799.500 h1" stroke="#30383d" stroke-width="1"/>
<path d="M233.300,789 V822 M223.100,799.200 V867 M223.100,797 H233 M245,783.200 V789" stroke="#65727a" stroke-width="0.5"/>
<!-- left panel -->
<path d="M203.200,799.200 V867 M203.200,804.300 H249" stroke="#65727a" stroke-width="0.5"/>
<!-- windows -->
<g stroke="#65727a" stroke-width="0.55">
<rect x="211.500" y="822" width="20.300" height="39.300" rx="3"/><rect x="240.100" y="822" width="12" height="39.300" rx="3"/>
<rect x="283" y="822" width="16.800" height="39.300" rx="3"/><rect x="307.400" y="822" width="20.600" height="39.300" rx="3"/>
<path d="M211.500,833.100 H231.800 M211.500,835.500 H231.800 M221.600,822 V861.300 M223.600,822 V861.300 M240.100,833.100 H250 M240.100,835.500 H250 M284,836.800 H299.800 M284,840.400 H299.800 M307.400,836.800 H328 M307.400,840.400 H328"/>
</g>
<!-- spindle / column lower -->
<path d="M250.800,804.300 V820.200 M254.400,804.300 V820.200 M277.100,804.300 V820.800 M280.800,804.300 V820.800" stroke="#5f6b72" stroke-width="0.5"/>
<path d="M250.100,861.300 V820.200 H258.700 V861.300" fill="#a8b7c0" stroke="#3b444a" stroke-width="0.7"/>
<path d="M250.100,861.300 C248,866 243,864 238,872 M258.700,861.300 V868" stroke="#5f6b72" stroke-width="0.5"/>
<path d="M258.700,824.500 H269.800 V872 M260.500,826 V866 M262.200,826 H267.500 V862 H262.200 Z M269.800,820 V868" stroke="#4c565d" stroke-width="0.55"/>
<path d="M262.200,836 h5.300 M262.200,848 h5.300 M262.200,856 h5.300" stroke="#5f6b72" stroke-width="0.4"/>
<path d="M259.600,823 V866" stroke="#262d31" stroke-width="0.7" stroke-dasharray="3 1"/>
<path d="M271.500,806 V868" stroke="#4c565d" stroke-width="0.6" stroke-dasharray="4 1.2"/>
<path d="M272.200,860.700 V820.800 H283.800 V860.700 M279.500,822 V860.700 H283.800" stroke="#3b444a" stroke-width="0.65"/>
<path d="M268.500,811.500 h5 M268.500,813.300 h5 M268.500,815.100 h5" stroke="#30383d" stroke-width="0.800" stroke-dasharray="1.500 0.700"/>
<rect x="285.100" y="821.400" width="1.900" height="10.500" fill="#1f2528"/>
<circle cx="282.700" cy="829.400" r="1.300" fill="#a8b7c0" stroke="#30383d" stroke-width="0.6"/>
<path d="M244,824.300 h5.500 M259.500,822.800 h6 M264,825 h4" stroke="#262d31" stroke-width="0.900"/>
<path d="M283.800,806 l2.500,0.500 v2.500" stroke="#5f6b72" stroke-width="0.45"/>
<!-- control panel -->
<path d="M328.800,804.300 V867 M328.800,814.500 H369.500 V867" stroke="#65727a" stroke-width="0.5"/>
<rect x="331" y="817.900" width="30.600" height="42.400" rx="1" fill="#aab9c2" stroke="#4c565d" stroke-width="0.65"/>
<rect x="332.600" y="819.300" width="26.400" height="10.500" fill="#aab8c0" stroke="#3b444a" stroke-width="0.5"/>
<rect x="334" y="821" width="8.500" height="6.300" fill="#b1c0c8" stroke="#3b444a" stroke-width="0.45"/>
<rect x="346" y="820.700" width="5.200" height="7.600" fill="#6c787f" stroke="#343c41" stroke-width="0.4"/>
<rect x="353.500" y="821" width="4.500" height="6" fill="#b1c0c8" stroke="#3b444a" stroke-width="0.4"/>
<path d="M334,820.300 h5 M353,828.600 h5.500" stroke="#22292d" stroke-width="1"/>
<rect x="332.600" y="830.600" width="26.400" height="11.900" fill="none" stroke="#4c565d" stroke-width="0.5"/>
<rect x="332.600" y="843.300" width="26.400" height="15.300" fill="none" stroke="#4c565d" stroke-width="0.5"/>
<rect x="335.500" y="845" width="16.500" height="10.500" rx="0.800" fill="#b1c0c8" stroke="#5f6b72" stroke-width="0.5"/>
<path d="M354.500,847 h0.900 M357,847 h0.900 M356.500,851 h0.800 M356.500,855 h0.800" stroke="#4c565d" stroke-width="0.800"/>
<path d="M361.600,820 q3.500,2 3.500,6 v18 q0,4 -3.500,6" stroke="#5f6b72" stroke-width="0.55"/>
<path d="M361.800,830 v7" stroke="#3b444a" stroke-width="0.800"/>
<path d="M331,815.800 h7 M331,862.300 h7" stroke="#4c565d" stroke-width="0.600" stroke-dasharray="1 0.600"/>
<path d="M365,858 h3 v5 h-36" stroke="#65727a" stroke-width="0.450"/>
<!-- horizontal line + table -->
<path d="M121.300,867.100 H203 M369.500,867.100 H401.300" stroke="#65727a" stroke-width="0.5"/>
<path d="M155.700,868.800 H368.700 M155.700,868.800 V872 M158,877.300 H366" stroke="#4c565d" stroke-width="0.55"/>
<path d="M160,871 h205" stroke="#5f6b72" stroke-width="0.500" stroke-dasharray="4 2.500"/>
<path d="M154.500,869.500 l3.500,5.500 M157.500,869.500 l-2,5.500" stroke="#262d31" stroke-width="1"/>
<path d="M365.500,870 v6 M367,870 v6" stroke="#262d31" stroke-width="0.800"/>
<path d="M171,875 h60 M270,875 h60" stroke="#5f6b72" stroke-width="0.450"/>
<path d="M233,873.500 h25 M262,873.500 h14" stroke="#30383d" stroke-width="0.900"/>
<path d="M258,868 l2,9 M255.500,872 l5.500,4" stroke="#262d31" stroke-width="0.900"/>
<!-- way covers -->
<path d="M134.500,878 H389 M134.500,878 V880 H166 L182,885.700 H198.200 M389,878 L352.600,885.700 H333.900 M166,880 H353" stroke="#5f6b72" stroke-width="0.55"/>
<path d="M334,887.500 q6,4 8,0 M341,886 q3,3 0,5" stroke="#65727a" stroke-width="0.450"/>
<!-- base -->
<path d="M121.300,892.200 H203 M330,892.200 H401.300" stroke="#65727a" stroke-width="0.5"/>
<path d="M133,893.200 h1 M154,893.200 h1 M175,893.200 h1 M196,893.200 h1 M349,893.200 h1 M370,893.200 h1 M390,893.200 h1" stroke="#4c565d" stroke-width="0.800"/>
<path d="M198.200,868.800 V919.700 M201.500,885.700 V915 M333.900,868.800 V919.700 M329.700,885.700 V919.700" stroke="#5f6b72" stroke-width="0.5"/>
<path d="M201.500,885.700 H330 M201.500,892 H330 M224,893 V915 H308.500 V893 M224,898 H308.500 M230,907.500 H302 V915 M230,907.500 V915 M266,893 V915 M271,893 V915" stroke="#5f6b72" stroke-width="0.5"/>
<path d="M204,888.800 h5 M222,888.800 h6 M240,888.800 h6 M258,888.800 h6 M279,888.800 h6 M297,888.800 h6 M315,888.800 h6" stroke="#4c565d" stroke-width="0.55"/>
<path d="M203,890.500 l3,2 M214,890.500 l-2,2 M225,893 l2,3 M243,893 l-2,3 M262,890.500 l4,2 M275,890.500 l-4,2 M295,893 l2,3 M306,893 l-2,3 M318,890.500 l3,2" stroke="#30383d" stroke-width="0.700"/>
<g stroke="#5f6b72" stroke-width="0.5">
<rect x="209.200" y="895" width="11.800" height="12" rx="1"/><circle cx="215.100" cy="901" r="3.800"/><circle cx="215.100" cy="901" r="2.300"/>
<rect x="311.800" y="895" width="11.900" height="12" rx="1"/><circle cx="317.700" cy="901" r="3.800"/><circle cx="317.700" cy="901" r="2.300"/>
</g>
<!-- feet -->
<g fill="#a8b7c0" stroke="#5f6b72" stroke-width="0.5">
<rect x="201" y="915.500" width="8" height="5.900"/><rect x="221.300" y="915.500" width="6.300" height="5.900"/><rect x="237.400" y="915.500" width="6.400" height="5.900"/><rect x="288.200" y="914" width="8.200" height="7.400"/><rect x="304.400" y="914" width="8.100" height="7.400"/><rect x="322.200" y="915.500" width="7.300" height="5.900"/>
<path d="M203,913.500 h4 v2 h-4 z M222.500,913.500 h4 v2 h-4 z M238.600,913.500 h4 v2 h-4 z M324,913.500 h4 v2 h-4 z"/>
</g>
<path d="M262,920.900 h5 M296,920.900 h8" stroke="#65727a" stroke-width="0.500"/>
<text x="313.200" y="858.600" font-size="8" fill="#222" textLength="15.600" lengthAdjust="spacingAndGlyphs">2040</text>
</g>
<!-- ============ V-80i side view ============ -->
<g id="v80i-side" fill="none">
<path d="M456.800,799.200 L513.100,799.200 L513.100,755.100 L588.300,755.100 L588.300,788.700 L616.200,788.700 L616.200,781 L621.300,781 L621.300,788.700 L623,788.700 L623,879.800 L631.800,879.800 L631.800,897.600 L625,897.600 L625,912.800 L623.900,912.800 L623.900,921.300 L615.400,921.300 L615.400,913.700 L590.800,913.700 L590.800,919.600 L578,919.600 L578,921 L569,921 L569,919.600 L552.500,919.600 L552.500,921 L543.500,921 L543.500,919.600 L527.500,919.600 L527.500,921 L518.500,921 L518.500,919.600 L502,919.600 L502,921 L493,921 L493,919.600 L467,919.600 L467,871.300 L456.800,865.400 Z" fill="#aab9c2" stroke="#65727a" stroke-width="0.7"/>
<!-- column -->
<path d="M529.700,755.100 V818 M561.100,755.100 V799 M562.800,755.100 V799 M513.100,799.200 H590" stroke="#5f6b72" stroke-width="0.5"/>
<path d="M513.100,797.200 H588.300" stroke="#4c565d" stroke-width="0.7"/>
<rect x="533.100" y="764.400" width="25.500" height="31.400" fill="none" stroke="#4c565d" stroke-width="0.6"/>
<rect x="534.600" y="765.900" width="22.500" height="28.400" fill="none" stroke="#5f6b72" stroke-width="0.45" stroke-dasharray="5 1"/>
<rect x="536.500" y="778" width="2.200" height="3" fill="none" stroke="#3b444a" stroke-width="0.5"/>
<path d="M568.500,791 h0.900 M570.200,791 h0.900 M568.500,794 h0.900 M570.200,794 h0.900" stroke="#3b444a" stroke-width="0.800"/>
<path d="M544,799.200 v4 h9.500 v-4 M564,803 h18 M570.500,807 h11 M570.500,810 h11 M570.500,813 h11" stroke="#5f6b72" stroke-width="0.5"/>
<path d="M513.100,799.200 l3.500,16 M530,815.500 h50 l3,3" stroke="#65727a" stroke-width="0.45"/>
<!-- left body -->
<path d="M470,799.200 V871 M457.400,820 v12" stroke="#65727a" stroke-width="0.5"/>
<!-- right section -->
<path d="M589.100,788.700 V913 M592.500,790 V866 M595.900,800.900 H617.100 V861.100 H595.900 Z M616.200,788.700 V806 l5,1.500 M621.300,788.700 V913" stroke="#5f6b72" stroke-width="0.5"/>
<path d="M584.500,799.200 V866 M586.500,799.200 V866" stroke="#5f6b72" stroke-width="0.45"/>
<path d="M585.500,812 v30" stroke="#30383d" stroke-width="0.9" stroke-dasharray="2 3"/>
<path d="M596.500,791.500 h1 M598.500,791.500 h1 M596.500,793.500 h1 M598.500,793.500 h1 M607.500,796 h1 M607.500,807 h1" stroke="#3b444a" stroke-width="0.800"/>
<circle cx="605.700" cy="825.500" r="3.400" stroke="#4c565d" stroke-width="0.6"/>
<circle cx="605.700" cy="848.400" r="3.400" stroke="#4c565d" stroke-width="0.6"/>
<path d="M597,841.500 h11 v5 M610.500,841.500 h1" stroke="#4c565d" stroke-width="0.55"/>
<path d="M593,795 h6 v20 h-3" stroke="#65727a" stroke-width="0.450"/>
<!-- lower right posts -->
<path d="M591,866 H621 M596,866 V888 M598,866 V888 M605,866 V888 M607,866 V888 M612,866 V888 M617,866 V880 H623" stroke="#5f6b72" stroke-width="0.5"/>
<rect x="601" y="887.400" width="17" height="11.900" fill="#a8b7c0" stroke="#4c565d" stroke-width="0.55"/>
<path d="M601,891 H618 M606.500,887.400 V899 M612.500,887.400 V899" stroke="#4c565d" stroke-width="0.5"/>
<path d="M602.500,895.500 h2.200 M605.600,895.500 h2.200 M608.700,895.500 h2.200 M611.800,895.500 h2.200 M614.900,895.500 h2.200" stroke="#262d31" stroke-width="1.600"/>
<path d="M590,886 H601 M590,889 H601 M590,893 H601 M618,893 H631 M618,896 H628 M623,899 H630" stroke="#4c565d" stroke-width="0.5"/>
<circle cx="605.200" cy="904.900" r="2.400" stroke="#3b444a" stroke-width="0.6"/><circle cx="616.700" cy="904.900" r="2.400" stroke="#3b444a" stroke-width="0.6"/>
<circle cx="605.200" cy="904.900" r="1.300" stroke="#4c565d" stroke-width="0.45"/><circle cx="616.700" cy="904.900" r="1.300" stroke="#4c565d" stroke-width="0.45"/>
<path d="M607,913.700 h5 v2 h-5 z M617,911.500 h4.500" stroke="#4c565d" stroke-width="0.5"/>
<!-- inner frames -->
<rect x="497.200" y="818.400" width="72.400" height="43" fill="none" stroke="#5f6b72" stroke-width="0.55"/>
<path d="M511.900,861 V825.500 H569.600" stroke="#5f6b72" stroke-width="0.55"/>
<path d="M572,818 v44 M578,815 v50 M581,818 h3.500 M581,862 h3.500" stroke="#65727a" stroke-width="0.45"/>
<!-- spindle nose -->
<path d="M521,818.400 h12 M523,820.500 h8 l8,-1.500 h14 M534,823.500 l5,-2 h13" stroke="#3b444a" stroke-width="0.700"/>
<path d="M521,824.500 h30" stroke="#30383d" stroke-width="0.800" stroke-dasharray="3 1.200"/>
<!-- small vise -->
<path d="M527,856.500 h9 l-1,3 h-7 z M529.500,861.500 h4" stroke="#3b444a" stroke-width="0.55"/>
<path d="M521.300,861 v7" stroke="#262d31" stroke-width="1.200"/>
<!-- 997 dim -->
<path d="M531.400,799.200 V842.500 H582.300" stroke="#555" stroke-width="0.5"/>
<path d="M531.400,842.500 l4.500,-0.800 v1.600 z M582.300,842.500 l-4.500,-0.800 v1.600 z" fill="#1e1e1e"/>
<!-- table -->
<rect x="480.500" y="868.700" width="105.200" height="5.100" fill="#a6b5be" stroke="#4c565d" stroke-width="0.5"/>
<path d="M483,870.300 h100" stroke="#4c565d" stroke-width="0.8" stroke-dasharray="2.500 7.500"/>
<path d="M467,871.300 H480.500" stroke="#65727a" stroke-width="0.450"/>
<rect x="480.500" y="875.500" width="52.600" height="10.200" fill="none" stroke="#5f6b72" stroke-width="0.5"/>
<!-- vise under table -->
<g stroke="#262d31" stroke-width="0.800">
<path d="M534.800,875.500 h4 v5 h3 M545.500,876.500 h6 v9 h-6 z M556,876.500 h8 M555,880.500 h10 v4 h-10 z M568,876.500 h6 v9 h-6 z M549,878 h-3 M566,875 h10"/>
<path d="M546.500,880 h4 M546.500,882.500 h4 M569,880 h4 M569,882.500 h4 M557,882.500 h6" stroke-width="1.300"/>
</g>
<path d="M543,886 h34 l2,3 h-38 z" stroke="#4c565d" stroke-width="0.5"/>
<!-- base -->
<path d="M467,890 H590.800" stroke="#3b444a" stroke-width="0.800"/>
<path d="M470,890 V919 M478.800,893.300 H589 M478.800,893.300 V916 H590 M590.800,890 V919.600" stroke="#5f6b72" stroke-width="0.5"/>
<path d="M485,896 h1 M503,899 h1 M521,896 h1 M539,899 h1 M557,896 h1 M575,899 h1" stroke="#4c565d" stroke-width="0.700"/>
<g fill="#a8b7c0" stroke="#5f6b72" stroke-width="0.5">
<rect x="491.600" y="901.800" width="11.800" height="8.500"/><rect x="517" y="901.800" width="11" height="8.500"/><rect x="541.600" y="901.800" width="11.900" height="8.500"/><rect x="567" y="901.800" width="11.900" height="8.500"/>
<rect x="494.500" y="912.500" width="6.400" height="3.200"/><rect x="519.500" y="912.500" width="6.400" height="3.200"/><rect x="544.500" y="912.500" width="6.400" height="3.200"/><rect x="570" y="912.500" width="6.400" height="3.200"/>
<rect x="493.300" y="915.700" width="8.600" height="5"/><rect x="518.600" y="915.700" width="8.600" height="5"/><rect x="543.700" y="915.700" width="8.600" height="5"/><rect x="569.200" y="915.700" width="8.600" height="5"/>
<rect x="615.600" y="912.800" width="8.100" height="8.500"/>
</g>
<path d="M496.500,909 h2.400 M521.500,909 h2.400 M546.500,909 h2.400 M572,909 h2.400 M495,911.500 h5" stroke="#30383d" stroke-width="0.900"/>
<!-- vertical dim -->
<path d="M512.800,825.500 V919.600 M512.800,919.600 H533" stroke="#555" stroke-width="0.5"/>
<g font-size="7.600" fill="#222">
<text transform="translate(508.300,825.100) rotate(-90)" text-anchor="middle" font-size="8" textLength="70.400" lengthAdjust="spacingAndGlyphs">Z AXIS 720(840-120)</text>
<text transform="translate(514.600,844.100) rotate(-90)" text-anchor="middle" textLength="11.900" lengthAdjust="spacingAndGlyphs">840</text>
<text transform="translate(514.300,896.300) rotate(-90)" text-anchor="middle" textLength="14.500" lengthAdjust="spacingAndGlyphs">1038</text>
<text x="554" y="842" font-size="8.200" textLength="12.400" lengthAdjust="spacingAndGlyphs">997</text>
<text x="486.500" y="883.700" font-size="8.600" textLength="42.700" lengthAdjust="spacingAndGlyphs">Y AXIS 1000</text>
</g>
</g>

<!-- legend -->
<line x1="800.9" y1="112.3" x2="830.6" y2="112.3" stroke="#14148f" stroke-width="3.4" stroke-linecap="round"/>
<text x="838.8" y="117.1" font-size="12.70" text-anchor="start" font-weight="normal" fill="#1a1a1a" textLength="92.0" lengthAdjust="spacingAndGlyphs" >Continuous N-m</text>
<line x1="800.9" y1="126.7" x2="830.6" y2="126.7" stroke="#f80d10" stroke-width="3.4" stroke-linecap="round"/>
<text x="838.8" y="131.0" font-size="12.70" text-anchor="start" font-weight="normal" fill="#1a1a1a" textLength="66.5" lengthAdjust="spacingAndGlyphs" >30 min N-m</text>
<line x1="800.9" y1="141.1" x2="830.6" y2="141.1" stroke="#470909" stroke-width="3.4" stroke-linecap="round"/>
<text x="838.8" y="145.4" font-size="12.70" text-anchor="start" font-weight="normal" fill="#1a1a1a" textLength="87.5" lengthAdjust="spacingAndGlyphs" >Coutinuous KW</text>
<line x1="800.9" y1="155.0" x2="830.6" y2="155.0" stroke="#08733b" stroke-width="3.4" stroke-linecap="round"/>
<text x="838.8" y="159.3" font-size="12.70" text-anchor="start" font-weight="normal" fill="#1a1a1a" textLength="61.0" lengthAdjust="spacingAndGlyphs" >30 min KW</text>
<!-- charts -->
<rect x="857.7" y="214.6" width="205.7" height="184.5" fill="none" stroke="#0a0a0a" stroke-width="1.7"/>
<line x1="907.5" y1="242.7" x2="907.5" y2="399.1" stroke="#6e6e6e" stroke-width="0.75"/>
<polyline points="857.7,399.2 907.7,319.1 1042.3,318.6 1063.4,336.3" fill="none" stroke="#470909" stroke-width="2.15" stroke-linejoin="round" stroke-linecap="round"/>
<polyline points="857.7,399.2 907.2,278.3 1040.2,277.0 1064.2,314.6" fill="none" stroke="#08733b" stroke-width="2.15" stroke-linejoin="round" stroke-linecap="round"/>
<path d="M855.6,298.3 L907.2,298.3  C907.3,299.5 907.6,303.2 908.0,305.5 C908.4,307.8 908.9,309.8 909.6,311.9 C910.3,314.0 911.1,316.1 912.0,318.3 C913.0,320.6 914.0,323.1 915.2,325.5 C916.4,327.9 917.8,330.3 919.2,332.7 C920.7,335.1 922.2,337.5 924.0,340.0 C925.9,342.4 928.0,344.8 930.4,347.2 C932.8,349.6 935.8,352.2 938.5,354.4 C941.1,356.6 943.8,358.5 946.5,360.3 C949.1,362.1 951.5,363.5 954.5,365.1 C957.4,366.7 961.2,368.6 964.1,369.9 C967.0,371.2 969.4,372.2 972.1,373.1 C974.8,374.1 977.4,374.9 980.1,375.7 C982.8,376.5 985.5,377.3 988.1,377.9 C990.8,378.6 993.5,379.2 996.1,379.7 C998.8,380.2 1001.5,380.7 1004.1,381.1 C1006.8,381.6 1009.5,381.9 1012.2,382.3 C1014.8,382.6 1017.5,382.8 1020.2,383.1 C1022.8,383.3 1025.5,383.5 1028.2,383.7 C1030.9,383.9 1033.5,383.9 1036.2,384.0 C1038.9,384.1 1041.5,384.1 1044.2,384.2 C1046.9,384.2 1049.3,384.2 1052.2,384.2 C1055.2,384.1 1060.2,383.9 1061.8,383.9" fill="none" stroke="#14148f" stroke-width="2.15" stroke-linejoin="round" stroke-linecap="round"/>
<path d="M857.7,242.2 L907.7,242.2  C907.9,244.5 908.4,251.7 908.8,255.8 C909.3,260.0 909.7,263.4 910.4,267.0 C911.1,270.7 911.9,274.2 912.8,277.9 C913.8,281.7 914.7,285.7 916.0,289.5 C917.4,293.3 919.1,297.2 920.8,300.7 C922.6,304.2 924.4,307.2 926.4,310.3 C928.4,313.4 930.6,316.2 932.8,319.1 C935.1,322.1 937.5,325.1 940.1,327.9 C942.6,330.7 945.4,333.5 948.1,335.9 C950.7,338.4 953.4,340.6 956.1,342.7 C958.8,344.8 961.4,346.6 964.1,348.4 C966.8,350.3 969.4,352.0 972.1,353.6 C974.8,355.2 977.4,356.7 980.1,358.1 C982.8,359.4 985.5,360.7 988.1,361.9 C990.8,363.1 993.5,364.1 996.1,365.1 C998.8,366.1 1001.5,367.1 1004.1,368.0 C1006.8,368.9 1009.5,369.8 1012.2,370.6 C1014.8,371.3 1017.5,372.0 1020.2,372.6 C1022.8,373.3 1025.5,373.9 1028.2,374.4 C1030.9,374.9 1033.5,375.4 1036.2,375.8 C1038.9,376.3 1041.5,376.6 1044.2,377.0 C1046.9,377.3 1049.3,377.5 1052.2,377.8 C1055.2,378.0 1060.2,378.3 1061.8,378.4" fill="none" stroke="#f80d10" stroke-width="2.15" stroke-linejoin="round" stroke-linecap="round"/>
<text x="913.9" y="179.2" font-size="12.90" text-anchor="start" font-weight="bold" fill="#5a1010" textLength="85.9" lengthAdjust="spacingAndGlyphs" >V-12iP/V-20S</text><text x="896.5" y="195.1" font-size="13.60" text-anchor="start" font-weight="bold" fill="#5a1010" textLength="120.4" lengthAdjust="spacingAndGlyphs" >&#945;8-8000i/8000rpm</text><text x="835.6" y="196.4" font-size="8.40" text-anchor="start" font-weight="bold" fill="#111" textLength="31.6" lengthAdjust="spacingAndGlyphs" >TORQUE</text><text x="1054.6" y="196.4" font-size="8.40" text-anchor="start" font-weight="bold" fill="#111" textLength="30.5" lengthAdjust="spacingAndGlyphs" >OUTPUT</text><text x="1069.7" y="204.2" font-size="8.40" text-anchor="middle" font-weight="bold" fill="#111" textLength="12.0" lengthAdjust="spacingAndGlyphs" >KW</text><text x="845.4" y="219.4" font-size="7.60" text-anchor="end" font-weight="normal" fill="#2a2a2a" >80</text><text x="845.4" y="265.3" font-size="7.60" text-anchor="end" font-weight="normal" fill="#2a2a2a" >60</text><text x="845.4" y="310.7" font-size="7.60" text-anchor="end" font-weight="normal" fill="#2a2a2a" >40</text><text x="845.4" y="356.7" font-size="7.60" text-anchor="end" font-weight="normal" fill="#2a2a2a" >20</text><text x="845.4" y="402.6" font-size="7.60" text-anchor="end" font-weight="normal" fill="#2a2a2a" >0</text><text x="1072.2" y="219.3" font-size="7.60" text-anchor="start" font-weight="normal" fill="#2a2a2a" >16</text><text x="1072.2" y="265.3" font-size="7.60" text-anchor="start" font-weight="normal" fill="#2a2a2a" >12</text><text x="1075.7" y="310.5" font-size="7.60" text-anchor="start" font-weight="normal" fill="#2a2a2a" >8</text><text x="1075.7" y="356.7" font-size="7.60" text-anchor="start" font-weight="normal" fill="#2a2a2a" >4</text><text x="1075.7" y="402.7" font-size="7.60" text-anchor="start" font-weight="normal" fill="#2a2a2a" >0</text><text x="1066.9" y="321.5" font-size="7.50" text-anchor="start" font-weight="normal" fill="#2a2a2a" >7.5KW</text><text x="1066.9" y="337.4" font-size="7.50" text-anchor="start" font-weight="normal" fill="#2a2a2a" >5.5KW</text><text x="852.3" y="412.0" font-size="7.60" text-anchor="middle" font-weight="normal" fill="#2a2a2a" >0</text><text x="906.0" y="412.0" font-size="7.60" text-anchor="middle" font-weight="normal" fill="#2a2a2a" >1500</text><text x="1061.4" y="412.0" font-size="7.60" text-anchor="middle" font-weight="normal" fill="#2a2a2a" >8000</text><text x="862.0" y="237.6" font-size="11.50" text-anchor="start" font-weight="normal" fill="#1c1c1c" textLength="33.6" lengthAdjust="spacingAndGlyphs" >70N-m</text><text x="901.4" y="237.6" font-size="11.50" text-anchor="start" font-weight="normal" fill="#1c1c1c" textLength="43.8" lengthAdjust="spacingAndGlyphs" >1500rpm</text><text x="964.3" y="273.2" font-size="11.50" text-anchor="start" font-weight="normal" fill="#1c1c1c" textLength="29.2" lengthAdjust="spacingAndGlyphs" >11KW</text><text x="862.0" y="294.1" font-size="11.50" text-anchor="start" font-weight="normal" fill="#1c1c1c" textLength="43.2" lengthAdjust="spacingAndGlyphs" >47.7N-m</text><text x="960.0" y="311.9" font-size="11.50" text-anchor="start" font-weight="normal" fill="#1c1c1c" textLength="33.5" lengthAdjust="spacingAndGlyphs" >7.5KW</text>
<rect x="858.2" y="497.1" width="205.7" height="184.5" fill="none" stroke="#0a0a0a" stroke-width="1.7"/>
<line x1="908.5" y1="525.2" x2="908.5" y2="681.6" stroke="#6e6e6e" stroke-width="0.75"/>
<polyline points="858.2,681.7 908.2,601.6 1042.8,601.1 1063.9,618.8" fill="none" stroke="#470909" stroke-width="2.15" stroke-linejoin="round" stroke-linecap="round"/>
<polyline points="858.2,681.7 907.7,560.8 1040.7,559.5 1064.7,597.1" fill="none" stroke="#08733b" stroke-width="2.15" stroke-linejoin="round" stroke-linecap="round"/>
<path d="M856.1,580.8 L907.7,580.8  C907.8,582.0 908.1,585.7 908.5,588.0 C908.9,590.3 909.4,592.3 910.1,594.4 C910.8,596.5 911.6,598.6 912.5,600.8 C913.5,603.1 914.5,605.6 915.7,608.0 C916.9,610.4 918.3,612.8 919.7,615.2 C921.2,617.6 922.7,620.0 924.5,622.5 C926.4,624.9 928.5,627.3 930.9,629.7 C933.3,632.1 936.3,634.7 939.0,636.9 C941.6,639.1 944.3,641.0 947.0,642.8 C949.6,644.6 952.0,646.0 955.0,647.6 C957.9,649.2 961.7,651.1 964.6,652.4 C967.5,653.7 969.9,654.7 972.6,655.6 C975.3,656.6 977.9,657.4 980.6,658.2 C983.3,659.0 986.0,659.8 988.6,660.4 C991.3,661.1 994.0,661.7 996.6,662.2 C999.3,662.7 1002.0,663.2 1004.6,663.6 C1007.3,664.1 1010.0,664.4 1012.7,664.8 C1015.3,665.1 1018.0,665.3 1020.7,665.6 C1023.3,665.8 1026.0,666.0 1028.7,666.2 C1031.4,666.4 1034.0,666.4 1036.7,666.5 C1039.4,666.6 1042.0,666.6 1044.7,666.7 C1047.4,666.7 1049.8,666.7 1052.7,666.7 C1055.7,666.6 1060.7,666.4 1062.3,666.4" fill="none" stroke="#14148f" stroke-width="2.15" stroke-linejoin="round" stroke-linecap="round"/>
<path d="M858.2,524.7 L908.2,524.7  C908.4,527.0 908.9,534.2 909.3,538.3 C909.8,542.5 910.2,545.9 910.9,549.5 C911.6,553.2 912.4,556.7 913.3,560.4 C914.3,564.2 915.2,568.2 916.5,572.0 C917.9,575.8 919.6,579.7 921.3,583.2 C923.1,586.7 924.9,589.7 926.9,592.8 C928.9,595.9 931.1,598.7 933.3,601.6 C935.6,604.6 938.0,607.6 940.6,610.4 C943.1,613.2 945.9,616.0 948.6,618.4 C951.2,620.9 953.9,623.1 956.6,625.2 C959.3,627.3 961.9,629.1 964.6,630.9 C967.3,632.8 969.9,634.5 972.6,636.1 C975.3,637.7 977.9,639.2 980.6,640.6 C983.3,641.9 986.0,643.2 988.6,644.4 C991.3,645.6 994.0,646.6 996.6,647.6 C999.3,648.6 1002.0,649.6 1004.6,650.5 C1007.3,651.4 1010.0,652.3 1012.7,653.1 C1015.3,653.8 1018.0,654.5 1020.7,655.1 C1023.3,655.8 1026.0,656.4 1028.7,656.9 C1031.4,657.4 1034.0,657.9 1036.7,658.3 C1039.4,658.8 1042.0,659.1 1044.7,659.5 C1047.4,659.8 1049.8,660.0 1052.7,660.3 C1055.7,660.5 1060.7,660.8 1062.3,660.9" fill="none" stroke="#f80d10" stroke-width="2.15" stroke-linejoin="round" stroke-linecap="round"/>
<text x="912.8" y="460.5" font-size="12.90" text-anchor="start" font-weight="bold" fill="#5a1010" textLength="83.6" lengthAdjust="spacingAndGlyphs" >V-30S/V-30M</text><text x="894.7" y="477.3" font-size="13.60" text-anchor="start" font-weight="bold" fill="#5a1010" textLength="120.0" lengthAdjust="spacingAndGlyphs" >&#945;8-8000i/8000rpm</text><text x="835.6" y="477.0" font-size="8.40" text-anchor="start" font-weight="bold" fill="#111" textLength="31.6" lengthAdjust="spacingAndGlyphs" >TORQUE</text><text x="1054.6" y="477.0" font-size="8.40" text-anchor="start" font-weight="bold" fill="#111" textLength="30.5" lengthAdjust="spacingAndGlyphs" >OUTPUT</text><text x="1069.7" y="484.8" font-size="8.40" text-anchor="middle" font-weight="bold" fill="#111" textLength="12.0" lengthAdjust="spacingAndGlyphs" >KW</text><text x="845.9" y="547.8" font-size="7.60" text-anchor="end" font-weight="normal" fill="#2a2a2a" >60</text><text x="845.9" y="593.2" font-size="7.60" text-anchor="end" font-weight="normal" fill="#2a2a2a" >40</text><text x="845.9" y="639.2" font-size="7.60" text-anchor="end" font-weight="normal" fill="#2a2a2a" >20</text><text x="845.9" y="685.1" font-size="7.60" text-anchor="end" font-weight="normal" fill="#2a2a2a" >0</text><text x="1077.3" y="501.8" font-size="7.60" text-anchor="start" font-weight="normal" fill="#2a2a2a" >16</text><text x="1077.3" y="547.8" font-size="7.60" text-anchor="start" font-weight="normal" fill="#2a2a2a" >12</text><text x="1078.8" y="593.0" font-size="7.60" text-anchor="start" font-weight="normal" fill="#2a2a2a" >8</text><text x="1078.8" y="639.2" font-size="7.60" text-anchor="start" font-weight="normal" fill="#2a2a2a" >4</text><text x="1078.8" y="685.2" font-size="7.60" text-anchor="start" font-weight="normal" fill="#2a2a2a" >0</text><text x="1069.0" y="604.0" font-size="7.50" text-anchor="start" font-weight="normal" fill="#2a2a2a" >7.5KW</text><text x="1069.0" y="619.9" font-size="7.50" text-anchor="start" font-weight="normal" fill="#2a2a2a" >5.5KW</text><text x="852.8" y="694.5" font-size="7.60" text-anchor="middle" font-weight="normal" fill="#2a2a2a" >0</text><text x="906.5" y="694.5" font-size="7.60" text-anchor="middle" font-weight="normal" fill="#2a2a2a" >1500</text><text x="1061.9" y="694.5" font-size="7.60" text-anchor="middle" font-weight="normal" fill="#2a2a2a" >8000</text><text x="862.5" y="520.1" font-size="11.50" text-anchor="start" font-weight="normal" fill="#1c1c1c" textLength="33.6" lengthAdjust="spacingAndGlyphs" >70N-m</text><text x="901.9" y="520.1" font-size="11.50" text-anchor="start" font-weight="normal" fill="#1c1c1c" textLength="43.8" lengthAdjust="spacingAndGlyphs" >1500rpm</text><text x="964.8" y="555.7" font-size="11.50" text-anchor="start" font-weight="normal" fill="#1c1c1c" textLength="29.2" lengthAdjust="spacingAndGlyphs" >11KW</text><text x="862.5" y="576.6" font-size="11.50" text-anchor="start" font-weight="normal" fill="#1c1c1c" textLength="43.2" lengthAdjust="spacingAndGlyphs" >47.7N-m</text><text x="960.5" y="594.4" font-size="11.50" text-anchor="start" font-weight="normal" fill="#1c1c1c" textLength="33.5" lengthAdjust="spacingAndGlyphs" >7.5KW</text>
<rect x="1193.8" y="214.2" width="205.4" height="185.0" fill="none" stroke="#0a0a0a" stroke-width="1.7"/>
<line x1="1234.5" y1="248.3" x2="1234.5" y2="399.2" stroke="#6e6e6e" stroke-width="0.75"/>
<polyline points="1195.6,399.2 1233.0,313.5 1346.5,313.2 1396.5,336.8" fill="none" stroke="#470909" stroke-width="2.15" stroke-linejoin="round" stroke-linecap="round"/>
<polyline points="1195.6,399.2 1233.8,272.7 1346.0,272.2 1396.5,313.5" fill="none" stroke="#08733b" stroke-width="2.15" stroke-linejoin="round" stroke-linecap="round"/>
<path d="M1195.1,297.2 L1233.3,297.2  C1233.7,298.3 1234.7,301.7 1235.4,303.9 C1236.2,306.1 1236.9,308.2 1237.8,310.3 C1238.8,312.5 1239.7,314.2 1241.0,316.7 C1242.4,319.3 1244.1,322.6 1245.8,325.6 C1247.6,328.5 1249.6,331.7 1251.4,334.4 C1253.3,337.0 1255.1,339.3 1257.1,341.6 C1259.1,343.9 1261.1,345.9 1263.5,348.0 C1265.9,350.1 1268.8,352.5 1271.5,354.4 C1274.2,356.3 1276.6,357.7 1279.5,359.2 C1282.4,360.7 1285.9,362.2 1289.1,363.5 C1292.3,364.9 1295.5,366.2 1298.7,367.2 C1301.9,368.3 1305.1,369.2 1308.3,370.0 C1311.6,370.8 1314.8,371.4 1318.0,372.0 C1321.2,372.7 1324.4,373.2 1327.6,373.6 C1330.8,374.1 1334.1,374.4 1337.2,374.8 C1340.3,375.1 1343.3,375.2 1346.0,375.7 C1348.7,376.2 1350.7,377.0 1353.2,377.7 C1355.8,378.3 1358.6,379.1 1361.2,379.7 C1363.9,380.4 1366.6,381.0 1369.3,381.7 C1371.9,382.3 1374.6,383.0 1377.3,383.6 C1379.9,384.1 1382.1,384.5 1385.3,385.0 C1388.5,385.5 1394.6,386.2 1396.5,386.5" fill="none" stroke="#14148f" stroke-width="2.15" stroke-linejoin="round" stroke-linecap="round"/>
<path d="M1195.1,248.6 L1233.8,248.6  C1234.2,250.1 1235.2,254.5 1235.9,257.4 C1236.6,260.4 1237.4,263.5 1238.3,266.3 C1239.2,269.1 1239.9,271.0 1241.0,274.3 C1242.2,277.6 1243.7,282.4 1245.0,286.0 C1246.4,289.5 1247.6,292.5 1249.0,295.6 C1250.5,298.7 1251.9,301.7 1253.9,304.7 C1255.8,307.7 1258.2,310.6 1260.6,313.5 C1263.0,316.5 1265.7,319.5 1268.3,322.4 C1270.9,325.2 1273.6,327.8 1276.3,330.4 C1279.0,332.9 1281.6,335.4 1284.3,337.6 C1287.0,339.8 1289.4,341.6 1292.3,343.5 C1295.3,345.5 1298.7,347.5 1301.9,349.3 C1305.1,351.0 1308.3,352.5 1311.6,353.9 C1314.8,355.3 1318.0,356.5 1321.2,357.6 C1324.4,358.7 1327.6,359.7 1330.8,360.5 C1334.0,361.3 1337.9,362.0 1340.4,362.4 C1342.9,362.9 1343.9,362.6 1346.0,363.2 C1348.2,363.9 1350.7,365.3 1353.2,366.4 C1355.8,367.6 1358.6,368.8 1361.2,370.0 C1363.9,371.1 1366.6,372.1 1369.3,373.2 C1371.9,374.2 1374.6,375.1 1377.3,376.0 C1379.9,377.0 1382.1,377.8 1385.3,378.8 C1388.5,379.7 1394.6,381.2 1396.5,381.7" fill="none" stroke="#f80d10" stroke-width="2.15" stroke-linejoin="round" stroke-linecap="round"/>
<text x="1257.4" y="179.2" font-size="12.90" text-anchor="start" font-weight="bold" fill="#5a1010" textLength="81.4" lengthAdjust="spacingAndGlyphs" >V-50L/V-60S</text><text x="1232.2" y="193.6" font-size="13.60" text-anchor="start" font-weight="bold" fill="#5a1010" textLength="129.0" lengthAdjust="spacingAndGlyphs" >&#945;15-7000i/8000rpm</text><text x="1185.4" y="217.9" font-size="7.60" text-anchor="end" font-weight="normal" fill="#2a2a2a" >120</text><text x="1185.4" y="279.2" font-size="7.60" text-anchor="end" font-weight="normal" fill="#2a2a2a" >90</text><text x="1185.4" y="340.1" font-size="7.60" text-anchor="end" font-weight="normal" fill="#2a2a2a" >30</text><text x="1185.4" y="401.1" font-size="7.60" text-anchor="end" font-weight="normal" fill="#2a2a2a" >0</text><text x="1192.6" y="410.0" font-size="7.60" text-anchor="middle" font-weight="normal" fill="#2a2a2a" >0</text><text x="1236.8" y="410.0" font-size="7.60" text-anchor="middle" font-weight="normal" fill="#2a2a2a" >1750</text><text x="1394.6" y="409.0" font-size="7.60" text-anchor="middle" font-weight="normal" fill="#2a2a2a" >8000</text><text x="1395.4" y="415.2" font-size="6.80" text-anchor="start" font-weight="normal" fill="#2a2a2a" >rpm</text><text x="1404.8" y="401.0" font-size="12.00" text-anchor="start" font-weight="normal" fill="#1c1c1c" >0</text><text x="1404.8" y="318.3" font-size="11.50" text-anchor="start" font-weight="normal" fill="#1c1c1c" textLength="28.0" lengthAdjust="spacingAndGlyphs" >15kW</text><text x="1404.8" y="340.7" font-size="11.50" text-anchor="start" font-weight="normal" fill="#1c1c1c" textLength="25.0" lengthAdjust="spacingAndGlyphs" >11kw</text><text x="1220.6" y="227.4" font-size="11.50" text-anchor="start" font-weight="normal" fill="#1c1c1c" textLength="43.7" lengthAdjust="spacingAndGlyphs" >1750rpm</text><text x="1199.4" y="240.9" font-size="11.50" text-anchor="start" font-weight="normal" fill="#1c1c1c" textLength="48.9" lengthAdjust="spacingAndGlyphs" >100.9N-m</text><text x="1281.6" y="267.6" font-size="11.50" text-anchor="start" font-weight="normal" fill="#1c1c1c" textLength="37.4" lengthAdjust="spacingAndGlyphs" >18.5kW</text><text x="1200.2" y="292.3" font-size="11.50" text-anchor="start" font-weight="normal" fill="#1c1c1c" textLength="43.0" lengthAdjust="spacingAndGlyphs" >81.8N-m</text><text x="1281.6" y="305.5" font-size="11.50" text-anchor="start" font-weight="normal" fill="#1c1c1c" textLength="28.0" lengthAdjust="spacingAndGlyphs" >15kW</text>
<rect x="1197.4" y="492.6" width="206.1" height="183.5" fill="none" stroke="#0a0a0a" stroke-width="1.7"/>
<line x1="1237.5" y1="531.6" x2="1237.5" y2="676.1" stroke="#6e6e6e" stroke-width="0.75"/>
<polyline points="1198.7,675.4 1237.3,589.5 1351.1,589.5 1401.1,613.6" fill="none" stroke="#470909" stroke-width="2.15" stroke-linejoin="round" stroke-linecap="round"/>
<polyline points="1198.7,675.4 1237.6,548.7 1350.6,548.7 1401.1,590.0" fill="none" stroke="#08733b" stroke-width="2.15" stroke-linejoin="round" stroke-linecap="round"/>
<path d="M1198.7,578.3 L1237.1,578.3  C1237.5,579.3 1238.5,582.2 1239.2,584.2 C1240.0,586.2 1240.7,588.2 1241.6,590.4 C1242.6,592.6 1243.6,595.1 1244.8,597.5 C1246.0,599.9 1247.4,602.4 1248.8,604.8 C1250.3,607.2 1251.8,609.4 1253.6,611.9 C1255.5,614.3 1257.7,616.9 1260.1,619.3 C1262.5,621.7 1265.4,624.3 1268.1,626.4 C1270.7,628.5 1273.4,630.2 1276.1,631.8 C1278.8,633.4 1281.4,634.8 1284.1,636.1 C1286.8,637.4 1289.2,638.5 1292.1,639.6 C1295.1,640.8 1298.5,642.0 1301.7,643.0 C1304.9,644.1 1308.1,645.0 1311.3,645.8 C1314.6,646.6 1317.8,647.4 1321.0,648.1 C1324.2,648.8 1327.4,649.5 1330.6,650.1 C1333.8,650.7 1336.9,651.2 1340.2,651.7 C1343.5,652.3 1347.9,652.8 1350.6,653.3 C1353.3,653.7 1354.0,653.9 1356.2,654.4 C1358.5,655.0 1361.6,655.9 1364.2,656.5 C1366.9,657.2 1369.6,657.8 1372.3,658.5 C1374.9,659.1 1377.6,659.8 1380.3,660.4 C1382.9,661.0 1384.8,661.3 1388.3,662.0 C1391.8,662.6 1399.0,664.0 1401.1,664.4" fill="none" stroke="#14148f" stroke-width="2.15" stroke-linejoin="round" stroke-linecap="round"/>
<path d="M1198.7,531.8 L1237.6,531.8  C1238.0,533.3 1239.2,537.6 1240.0,540.5 C1240.9,543.5 1241.7,546.3 1242.7,549.6 C1243.8,552.9 1245.2,556.8 1246.4,560.1 C1247.7,563.5 1249.0,566.6 1250.4,569.8 C1251.9,573.0 1253.4,576.1 1255.2,579.4 C1257.1,582.8 1259.5,586.8 1261.7,589.9 C1263.8,593.1 1265.7,595.5 1268.1,598.4 C1270.5,601.2 1273.4,604.3 1276.1,606.9 C1278.8,609.5 1281.4,611.7 1284.1,613.7 C1286.8,615.8 1289.2,617.5 1292.1,619.4 C1295.1,621.3 1298.5,623.3 1301.7,625.0 C1304.9,626.7 1308.1,628.2 1311.3,629.6 C1314.6,631.0 1317.8,632.2 1321.0,633.4 C1324.2,634.6 1327.4,635.7 1330.6,636.7 C1333.8,637.7 1336.9,638.6 1340.2,639.5 C1343.5,640.5 1347.9,641.4 1350.6,642.2 C1353.3,642.9 1354.0,643.2 1356.2,644.0 C1358.5,644.9 1361.6,646.2 1364.2,647.2 C1366.9,648.3 1369.6,649.4 1372.3,650.4 C1374.9,651.4 1377.6,652.3 1380.3,653.2 C1382.9,654.0 1384.8,654.7 1388.3,655.7 C1391.8,656.7 1399.0,658.7 1401.1,659.3" fill="none" stroke="#f80d10" stroke-width="2.15" stroke-linejoin="round" stroke-linecap="round"/>
<text x="1270.1" y="460.5" font-size="12.90" text-anchor="start" font-weight="bold" fill="#5a1010" textLength="71.0" lengthAdjust="spacingAndGlyphs" >V-60i/V-80i</text><text x="1232.8" y="476.4" font-size="13.60" text-anchor="start" font-weight="bold" fill="#5a1010" textLength="146.5" lengthAdjust="spacingAndGlyphs" >&#945;P22-8000i/10000rpm</text><text x="1185.4" y="493.6" font-size="7.60" text-anchor="end" font-weight="normal" fill="#2a2a2a" >180</text><text x="1185.4" y="539.4" font-size="7.60" text-anchor="end" font-weight="normal" fill="#2a2a2a" >135</text><text x="1185.4" y="584.7" font-size="7.60" text-anchor="end" font-weight="normal" fill="#2a2a2a" >90</text><text x="1185.4" y="631.0" font-size="7.60" text-anchor="end" font-weight="normal" fill="#2a2a2a" >45</text><text x="1185.4" y="676.8" font-size="7.60" text-anchor="end" font-weight="normal" fill="#2a2a2a" >0</text><text x="1196.9" y="687.7" font-size="7.60" text-anchor="middle" font-weight="normal" fill="#2a2a2a" >0</text><text x="1240.9" y="687.7" font-size="7.60" text-anchor="middle" font-weight="normal" fill="#2a2a2a" >947</text><text x="1397.2" y="687.7" font-size="7.60" text-anchor="middle" font-weight="normal" fill="#2a2a2a" >10000</text><text x="1400.0" y="692.8" font-size="6.80" text-anchor="start" font-weight="normal" fill="#2a2a2a" >rpm</text><text x="1216.5" y="511.8" font-size="11.50" text-anchor="start" font-weight="normal" fill="#1c1c1c" textLength="38.4" lengthAdjust="spacingAndGlyphs" >947rpm</text><text x="1200.7" y="527.8" font-size="11.50" text-anchor="start" font-weight="normal" fill="#1c1c1c" textLength="49.1" lengthAdjust="spacingAndGlyphs" >151.2N-m</text><text x="1287.2" y="545.6" font-size="11.50" text-anchor="start" font-weight="normal" fill="#1c1c1c" textLength="27.5" lengthAdjust="spacingAndGlyphs" >15kW</text><text x="1201.2" y="575.6" font-size="11.50" text-anchor="start" font-weight="normal" fill="#1c1c1c" textLength="48.4" lengthAdjust="spacingAndGlyphs" >110.9N-m</text><text x="1287.2" y="586.3" font-size="11.50" text-anchor="start" font-weight="normal" fill="#1c1c1c" textLength="27.0" lengthAdjust="spacingAndGlyphs" >11kW</text><text x="1408.1" y="595.2" font-size="11.50" text-anchor="start" font-weight="normal" fill="#1c1c1c" textLength="27.5" lengthAdjust="spacingAndGlyphs" >11kW</text><text x="1408.1" y="617.6" font-size="11.50" text-anchor="start" font-weight="normal" fill="#1c1c1c" textLength="22.0" lengthAdjust="spacingAndGlyphs" >9kW</text>
<rect x="857.4" y="777.8" width="205.8" height="183.8" fill="none" stroke="#0a0a0a" stroke-width="1.7"/>
<line x1="907.5" y1="805.2" x2="907.5" y2="961.6" stroke="#6e6e6e" stroke-width="0.75"/>
<polyline points="857.4,961.2 907.9,847.4 1041.8,847.4 1063.2,885.7" fill="none" stroke="#470909" stroke-width="2.15" stroke-linejoin="round" stroke-linecap="round"/>
<polyline points="857.4,961.2 907.4,822.2 1039.3,821.1 1063.2,847.8" fill="none" stroke="#08733b" stroke-width="2.15" stroke-linejoin="round" stroke-linecap="round"/>
<path d="M858.2,842.5 L908.2,842.5  C908.6,843.5 909.7,846.5 910.7,848.6 C911.6,850.7 912.6,852.7 914.0,855.2 C915.3,857.7 917.1,860.7 918.9,863.4 C920.7,866.2 922.6,868.9 924.7,871.7 C926.7,874.4 928.8,877.1 931.3,879.9 C933.8,882.8 936.8,886.2 939.5,889.0 C942.3,891.8 944.8,894.2 947.8,896.8 C950.8,899.4 954.4,902.2 957.7,904.7 C961.0,907.2 964.3,909.5 967.6,911.6 C970.9,913.8 974.2,915.7 977.5,917.5 C980.8,919.4 984.1,920.9 987.4,922.5 C990.7,924.1 994.0,925.6 997.3,926.9 C1000.6,928.3 1003.9,929.5 1007.2,930.7 C1010.5,932.0 1014.3,933.4 1017.1,934.4 C1019.8,935.3 1021.2,935.4 1023.6,936.5 C1026.1,937.6 1029.1,939.5 1031.9,941.0 C1034.6,942.5 1037.4,944.1 1040.1,945.4 C1042.9,946.7 1045.6,947.9 1048.4,948.9 C1051.1,949.9 1054.2,950.7 1056.6,951.4 C1059.1,952.0 1062.1,952.5 1063.2,952.7" fill="none" stroke="#14148f" stroke-width="2.15" stroke-linejoin="round" stroke-linecap="round"/>
<path d="M858.2,805.7 L907.4,805.7  C907.8,807.2 909.0,812.0 909.8,814.8 C910.7,817.5 911.2,819.2 912.3,822.2 C913.4,825.2 914.9,829.5 916.4,832.9 C918.0,836.4 920.0,840.4 921.4,842.8 C922.8,845.3 923.0,845.2 924.7,847.8 C926.3,850.4 928.8,854.9 931.3,858.5 C933.8,862.1 936.8,865.9 939.5,869.2 C942.3,872.5 944.8,875.2 947.8,878.3 C950.8,881.4 954.4,884.8 957.7,887.7 C961.0,890.6 964.3,893.4 967.6,895.9 C970.9,898.5 974.2,900.8 977.5,903.0 C980.8,905.2 984.1,907.2 987.4,909.1 C990.7,911.1 994.0,912.9 997.3,914.6 C1000.6,916.2 1003.9,917.6 1007.2,919.0 C1010.5,920.5 1014.2,922.1 1017.1,923.3 C1019.9,924.5 1022.0,925.0 1024.5,926.1 C1026.9,927.3 1029.3,928.8 1031.9,930.2 C1034.5,931.7 1037.4,933.4 1040.1,934.9 C1042.9,936.3 1045.6,937.6 1048.4,938.8 C1051.1,940.1 1054.2,941.4 1056.6,942.3 C1059.1,943.1 1062.1,943.7 1063.2,943.9" fill="none" stroke="#f80d10" stroke-width="2.15" stroke-linejoin="round" stroke-linecap="round"/>
<text x="933.9" y="743.3" font-size="12.90" text-anchor="start" font-weight="bold" fill="#5a1010" textLength="42.0" lengthAdjust="spacingAndGlyphs" >V-40iL</text><text x="886.3" y="759.8" font-size="13.60" text-anchor="start" font-weight="bold" fill="#5a1010" textLength="136.8" lengthAdjust="spacingAndGlyphs" >&#945;15-7000i/10000rpm</text><text x="835.3" y="758.8" font-size="8.40" text-anchor="start" font-weight="bold" fill="#111" textLength="31.7" lengthAdjust="spacingAndGlyphs" >TORQUE</text><text x="1054.3" y="758.8" font-size="8.40" text-anchor="start" font-weight="bold" fill="#111" textLength="30.8" lengthAdjust="spacingAndGlyphs" >OUTPUT</text><text x="1069.5" y="766.7" font-size="8.40" text-anchor="middle" font-weight="bold" fill="#111" textLength="12.0" lengthAdjust="spacingAndGlyphs" >KW</text><text x="845.4" y="782.0" font-size="7.60" text-anchor="end" font-weight="normal" fill="#2a2a2a" >100</text><text x="845.4" y="827.8" font-size="7.60" text-anchor="end" font-weight="normal" fill="#2a2a2a" >75</text><text x="845.4" y="874.1" font-size="7.60" text-anchor="end" font-weight="normal" fill="#2a2a2a" >50</text><text x="845.4" y="919.4" font-size="7.60" text-anchor="end" font-weight="normal" fill="#2a2a2a" >25</text><text x="845.4" y="965.2" font-size="7.60" text-anchor="end" font-weight="normal" fill="#2a2a2a" >0</text><text x="1075.2" y="782.0" font-size="7.60" text-anchor="start" font-weight="normal" fill="#2a2a2a" >24</text><text x="1075.2" y="827.8" font-size="7.60" text-anchor="start" font-weight="normal" fill="#2a2a2a" >18</text><text x="1075.2" y="874.1" font-size="7.60" text-anchor="start" font-weight="normal" fill="#2a2a2a" >12</text><text x="1077.5" y="919.4" font-size="7.60" text-anchor="start" font-weight="normal" fill="#2a2a2a" >6</text><text x="1077.5" y="965.2" font-size="7.60" text-anchor="start" font-weight="normal" fill="#2a2a2a" >0</text><text x="1069.9" y="851.2" font-size="7.40" text-anchor="start" font-weight="normal" fill="#2a2a2a" >15KW</text><text x="1069.9" y="882.5" font-size="7.40" text-anchor="start" font-weight="normal" fill="#2a2a2a" >11KW</text><text x="851.8" y="974.6" font-size="7.60" text-anchor="middle" font-weight="normal" fill="#2a2a2a" >0</text><text x="904.5" y="974.6" font-size="7.60" text-anchor="middle" font-weight="normal" fill="#2a2a2a" >2210</text><text x="1058.7" y="974.6" font-size="7.60" text-anchor="middle" font-weight="normal" fill="#2a2a2a" >10000</text><text x="862.0" y="800.2" font-size="11.50" text-anchor="start" font-weight="normal" fill="#1c1c1c" textLength="43.0" lengthAdjust="spacingAndGlyphs" >79.9N-m</text><text x="911.1" y="800.2" font-size="11.50" text-anchor="start" font-weight="normal" fill="#1c1c1c" textLength="43.8" lengthAdjust="spacingAndGlyphs" >2210rpm</text><text x="953.6" y="818.0" font-size="11.50" text-anchor="start" font-weight="normal" fill="#1c1c1c" textLength="39.4" lengthAdjust="spacingAndGlyphs" >18.5KW</text><text x="863.8" y="838.3" font-size="11.50" text-anchor="start" font-weight="normal" fill="#1c1c1c" textLength="42.7" lengthAdjust="spacingAndGlyphs" >64.8N-m</text><text x="963.0" y="842.9" font-size="11.50" text-anchor="start" font-weight="normal" fill="#1c1c1c" textLength="30.0" lengthAdjust="spacingAndGlyphs" >15KW</text>
<!-- star -->
<g>
<polygon points="750.5,412.0 779.0,479.0 776.9,492.6 750.5,430.6" fill="#d98c1c" stroke="#d98c1c" stroke-width="0.4"/>
<polygon points="779.0,479.0 874.0,478.6 864.7,492.2 776.9,492.6" fill="#d98c1c" stroke="#d98c1c" stroke-width="0.4"/>
<polygon points="874.0,478.6 797.9,520.8 794.3,531.3 864.7,492.2" fill="#c47a12" stroke="#c47a12" stroke-width="0.4"/>
<polygon points="797.9,520.8 825.8,586.5 820.2,592.0 794.3,531.3" fill="#b97010" stroke="#b97010" stroke-width="0.4"/>
<polygon points="825.8,586.5 750.5,546.5 750.5,555.0 820.2,592.0" fill="#c67c14" stroke="#c67c14" stroke-width="0.4"/>
<polygon points="750.5,546.5 675.1,588.2 680.8,593.6 750.5,555.0" fill="#df9828" stroke="#df9828" stroke-width="0.4"/>
<polygon points="675.1,588.2 702.7,520.8 706.3,531.3 680.8,593.6" fill="#c98016" stroke="#c98016" stroke-width="0.4"/>
<polygon points="702.7,520.8 627.0,479.0 636.3,492.6 706.3,531.3" fill="#cf8418" stroke="#cf8418" stroke-width="0.4"/>
<polygon points="627.0,479.0 722.0,479.0 724.1,492.6 636.3,492.6" fill="#d98c1c" stroke="#d98c1c" stroke-width="0.4"/>
<polygon points="722.0,479.0 750.5,412.0 750.5,430.6 724.1,492.6" fill="#d98c1c" stroke="#d98c1c" stroke-width="0.4"/>
<clipPath id="starclip"><polygon points="750.5,412.0 779.0,479.0 874.0,478.6 797.9,520.8 825.8,586.5 750.5,546.5 675.1,588.2 702.7,520.8 627.0,479.0 722.0,479.0"/></clipPath>
<g clip-path="url(#starclip)">
<polygon points="750.5,412.0 779.0,479.0 874.0,478.6 797.9,520.8 825.8,586.5 750.5,546.5 675.1,588.2 702.7,520.8 627.0,479.0 722.0,479.0" fill="#f0901e"/>
<g filter="url(#blur3)"><polygon points="750.5,420.6 773.4,482.7 861.7,480.5 788.5,516.1 818.3,577.6 750.6,536.7 682.7,579.1 712.3,516.1 639.4,480.9 727.8,482.7" fill="#f8b063"/></g>
<g filter="url(#blur3)"><polygon points="750.5,425.7 766.3,487.3 854.3,481.6 776.7,510.3 813.8,572.3 750.6,524.5 687.2,573.7 724.3,510.3 646.8,482.0 735.0,487.3" fill="#fbd0a2"/></g>
<g filter="url(#blur3)"><polygon points="750.6,437.6 758.7,492.3 837.0,484.3 764.0,504.0 803.3,559.8 750.7,511.2 697.8,561.0 737.3,504.0 664.1,484.6 742.7,492.3" fill="#fff3e4"/></g>
<circle cx="750.8" cy="497.5" r="30" fill="url(#starc)"/>
</g>
<polygon points="750.5,412.0 779.0,479.0 874.0,478.6 797.9,520.8 825.8,586.5 750.5,546.5 675.1,588.2 702.7,520.8 627.0,479.0 722.0,479.0" fill="none" stroke="#e98a1c" stroke-width="0.7" stroke-linejoin="round"/>
</g>
<text x="639.8" y="622.5" font-size="21.3" font-weight="bold" fill="#0b1cff" stroke="#0b1cff" stroke-width="0.3" textLength="110.4" lengthAdjust="spacingAndGlyphs">ANH PHAT</text>
<text x="737" y="648.5" font-size="21.3" font-weight="bold" fill="#0b1cff" stroke="#0b1cff" stroke-width="0.3" textLength="131.400" lengthAdjust="spacingAndGlyphs">INDUSTRIAL</text>

<text x="845.9" y="639.2" font-size="7.6" text-anchor="end" fill="#2a2a2a">20</text>
</svg>
</body></html>
